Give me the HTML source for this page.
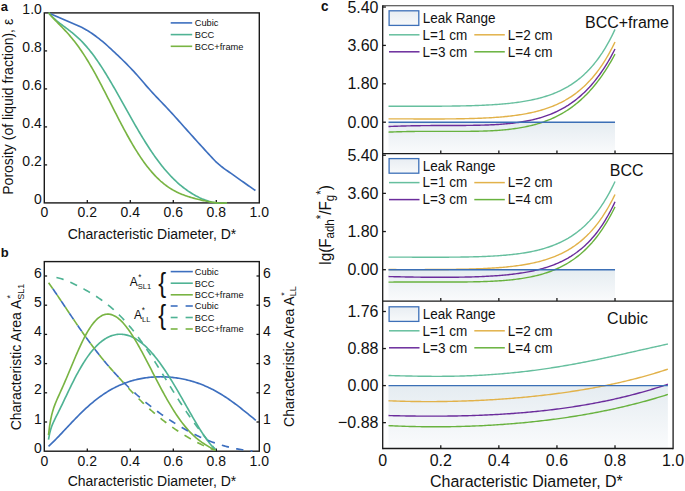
<!DOCTYPE html>
<html><head><meta charset="utf-8"><style>
html,body{margin:0;padding:0;background:#fff;}
body{width:685px;height:491px;overflow:hidden;}
svg{display:block;font-family:"Liberation Sans", sans-serif;}
</style></head><body>
<svg width="685" height="491" viewBox="0 0 685 491">
<rect width="685" height="491" fill="#fff"/>
<rect x="44.3" y="12.9" width="215" height="190" fill="none" stroke="#1a1a1a" stroke-width="1.4"/>
<line x1="87.3" y1="202.9" x2="87.3" y2="200.1" stroke="#1a1a1a" stroke-width="1.3"/>
<line x1="130.3" y1="202.9" x2="130.3" y2="200.1" stroke="#1a1a1a" stroke-width="1.3"/>
<line x1="173.3" y1="202.9" x2="173.3" y2="200.1" stroke="#1a1a1a" stroke-width="1.3"/>
<line x1="216.3" y1="202.9" x2="216.3" y2="200.1" stroke="#1a1a1a" stroke-width="1.3"/>
<line x1="44.3" y1="164.9" x2="47.1" y2="164.9" stroke="#1a1a1a" stroke-width="1.3"/>
<line x1="44.3" y1="126.9" x2="47.1" y2="126.9" stroke="#1a1a1a" stroke-width="1.3"/>
<line x1="44.3" y1="88.9" x2="47.1" y2="88.9" stroke="#1a1a1a" stroke-width="1.3"/>
<line x1="44.3" y1="50.9" x2="47.1" y2="50.9" stroke="#1a1a1a" stroke-width="1.3"/>
<path d="M48.6,12.9 L50.34,13.65 L52.08,14.4 L53.81,15.15 L55.55,15.9 L57.29,16.66 L59.03,17.42 L60.77,18.18 L62.5,18.95 L64.24,19.71 L65.98,20.47 L67.72,21.22 L69.46,21.96 L71.19,22.69 L72.93,23.43 L74.67,24.17 L76.41,24.92 L78.15,25.7 L79.89,26.51 L81.62,27.35 L83.36,28.24 L85.1,29.17 L86.84,30.17 L88.58,31.23 L90.31,32.35 L92.05,33.52 L93.79,34.74 L95.53,36 L97.27,37.3 L99,38.64 L100.74,40.03 L102.48,41.47 L104.22,42.95 L105.96,44.46 L107.69,46.01 L109.43,47.59 L111.17,49.18 L112.91,50.79 L114.65,52.41 L116.38,54.04 L118.12,55.68 L119.86,57.34 L121.6,59.02 L123.34,60.72 L125.07,62.45 L126.81,64.2 L128.55,65.97 L130.29,67.76 L132.03,69.58 L133.77,71.43 L135.5,73.32 L137.24,75.25 L138.98,77.23 L140.72,79.24 L142.46,81.27 L144.19,83.31 L145.93,85.34 L147.67,87.34 L149.41,89.31 L151.15,91.24 L152.88,93.13 L154.62,95 L156.36,96.84 L158.1,98.66 L159.84,100.47 L161.57,102.28 L163.31,104.09 L165.05,105.91 L166.79,107.73 L168.53,109.58 L170.26,111.45 L172,113.35 L173.74,115.26 L175.48,117.19 L177.22,119.13 L178.96,121.08 L180.69,123.04 L182.43,125 L184.17,126.96 L185.91,128.91 L187.65,130.85 L189.38,132.79 L191.12,134.72 L192.86,136.65 L194.6,138.58 L196.34,140.51 L198.07,142.43 L199.81,144.36 L201.55,146.27 L203.29,148.18 L205.03,150.08 L206.76,151.98 L208.5,153.86 L210.24,155.75 L211.98,157.64 L213.72,159.51 L215.45,161.3 L217.19,162.96 L218.93,164.48 L220.67,165.91 L222.41,167.26 L224.14,168.56 L225.88,169.82 L227.62,171.04 L229.36,172.24 L231.1,173.44 L232.84,174.64 L234.57,175.85 L236.31,177.08 L238.05,178.32 L239.79,179.56 L241.53,180.8 L243.26,182.04 L245,183.27 L246.74,184.49 L248.48,185.72 L250.22,186.93 L251.95,188.14 L253.69,189.35 L255.43,190.55" fill="none" stroke="#3d6fbf" stroke-width="1.65" stroke-linecap="butt" stroke-linejoin="round"/>
<path d="M48.6,12.91 L49.72,14.2 L50.84,15.42 L51.97,16.57 L53.09,17.66 L54.21,18.7 L55.33,19.69 L56.46,20.65 L57.58,21.57 L58.7,22.46 L59.82,23.33 L60.95,24.18 L62.07,25.02 L63.19,25.85 L64.31,26.68 L65.43,27.51 L66.56,28.34 L67.68,29.18 L68.8,30.04 L69.92,30.9 L71.05,31.78 L72.17,32.68 L73.29,33.6 L74.41,34.54 L75.54,35.51 L76.66,36.51 L77.78,37.53 L78.9,38.59 L80.03,39.67 L81.15,40.79 L82.27,41.94 L83.39,43.12 L84.51,44.34 L85.64,45.59 L86.76,46.88 L87.88,48.2 L89,49.55 L90.13,50.94 L91.25,52.37 L92.37,53.82 L93.49,55.32 L94.62,56.84 L95.74,58.4 L96.86,59.99 L97.98,61.61 L99.1,63.26 L100.23,64.94 L101.35,66.65 L102.47,68.39 L103.59,70.15 L104.72,71.94 L105.84,73.75 L106.96,75.59 L108.08,77.45 L109.21,79.32 L110.33,81.22 L111.45,83.13 L112.57,85.06 L113.69,87 L114.82,88.96 L115.94,90.93 L117.06,92.91 L118.18,94.9 L119.31,96.89 L120.43,98.9 L121.55,100.9 L122.67,102.91 L123.8,104.92 L124.92,106.94 L126.04,108.95 L127.16,110.96 L128.29,112.96 L129.41,114.96 L130.53,116.96 L131.65,118.94 L132.77,120.92 L133.9,122.88 L135.02,124.84 L136.14,126.78 L137.26,128.71 L138.39,130.63 L139.51,132.53 L140.63,134.41 L141.75,136.27 L142.88,138.12 L144,139.94 L145.12,141.75 L146.24,143.53 L147.36,145.29 L148.49,147.03 L149.61,148.74 L150.73,150.43 L151.85,152.1 L152.98,153.74 L154.1,155.35 L155.22,156.94 L156.34,158.5 L157.47,160.03 L158.59,161.54 L159.71,163.02 L160.83,164.47 L161.96,165.89 L163.08,167.28 L164.2,168.65 L165.32,169.98 L166.44,171.29 L167.57,172.57 L168.69,173.82 L169.81,175.04 L170.93,176.23 L172.06,177.39 L173.18,178.53 L174.3,179.64 L175.42,180.71 L176.55,181.77 L177.67,182.79 L178.79,183.79 L179.91,184.76 L181.03,185.7 L182.16,186.61 L183.28,187.5 L184.4,188.37 L185.52,189.21 L186.65,190.02 L187.77,190.81 L188.89,191.57 L190.01,192.31 L191.14,193.03 L192.26,193.72 L193.38,194.39 L194.5,195.03 L195.62,195.66 L196.75,196.25 L197.87,196.83 L198.99,197.38 L200.11,197.92 L201.24,198.42 L202.36,198.91 L203.48,199.37 L204.6,199.81 L205.73,200.23 L206.85,200.62 L207.97,200.99 L209.09,201.34 L210.22,201.66 L211.34,201.95 L212.46,202.22 L213.58,202.46 L214.7,202.67 L215.83,202.86 L216.95,203.01 L218.07,203.13 L219.19,203.22 L220.32,203.28 L221.44,203.29 L222.56,203.27 L223.68,203.21 L224.81,203.11 L225.93,202.96 L227.05,202.77" fill="none" stroke="#4fb394" stroke-width="1.65" stroke-linecap="butt" stroke-linejoin="round"/>
<path d="M48.6,12.73 L49.72,14.1 L50.84,15.42 L51.97,16.7 L53.09,17.94 L54.21,19.15 L55.33,20.34 L56.46,21.51 L57.58,22.67 L58.7,23.82 L59.82,24.97 L60.95,26.13 L62.07,27.29 L63.19,28.46 L64.31,29.64 L65.43,30.84 L66.56,32.06 L67.68,33.3 L68.8,34.57 L69.92,35.86 L71.05,37.18 L72.17,38.54 L73.29,39.92 L74.41,41.33 L75.54,42.78 L76.66,44.27 L77.78,45.78 L78.9,47.34 L80.03,48.93 L81.15,50.55 L82.27,52.21 L83.39,53.91 L84.51,55.64 L85.64,57.41 L86.76,59.21 L87.88,61.04 L89,62.9 L90.13,64.8 L91.25,66.72 L92.37,68.68 L93.49,70.66 L94.62,72.67 L95.74,74.71 L96.86,76.76 L97.98,78.84 L99.1,80.94 L100.23,83.06 L101.35,85.2 L102.47,87.35 L103.59,89.52 L104.72,91.69 L105.84,93.88 L106.96,96.08 L108.08,98.28 L109.21,100.49 L110.33,102.7 L111.45,104.91 L112.57,107.12 L113.69,109.33 L114.82,111.53 L115.94,113.73 L117.06,115.92 L118.18,118.1 L119.31,120.27 L120.43,122.42 L121.55,124.57 L122.67,126.69 L123.8,128.8 L124.92,130.88 L126.04,132.95 L127.16,134.99 L128.29,137.02 L129.41,139.01 L130.53,140.98 L131.65,142.92 L132.77,144.83 L133.9,146.72 L135.02,148.57 L136.14,150.39 L137.26,152.18 L138.39,153.93 L139.51,155.65 L140.63,157.34 L141.75,158.99 L142.88,160.6 L144,162.18 L145.12,163.72 L146.24,165.22 L147.36,166.68 L148.49,168.11 L149.61,169.49 L150.73,170.84 L151.85,172.15 L152.98,173.42 L154.1,174.65 L155.22,175.85 L156.34,177 L157.47,178.12 L158.59,179.2 L159.71,180.25 L160.83,181.26 L161.96,182.23 L163.08,183.16 L164.2,184.06 L165.32,184.93 L166.44,185.76 L167.57,186.56 L168.69,187.33 L169.81,188.07 L170.93,188.78 L172.06,189.46 L173.18,190.11 L174.3,190.73 L175.42,191.33 L176.55,191.9 L177.67,192.44 L178.79,192.97 L179.91,193.47 L181.03,193.95 L182.16,194.41 L183.28,194.85 L184.4,195.27 L185.52,195.67 L186.65,196.06 L187.77,196.44 L188.89,196.8 L190.01,197.15 L191.14,197.48 L192.26,197.81 L193.38,198.12 L194.5,198.42 L195.62,198.72 L196.75,199 L197.87,199.28 L198.99,199.55 L200.11,199.82 L201.24,200.07 L202.36,200.33 L203.48,200.57 L204.6,200.81 L205.73,201.04 L206.85,201.26 L207.97,201.48 L209.09,201.69 L210.22,201.88 L211.34,202.08 L212.46,202.25 L213.58,202.42 L214.7,202.58 L215.83,202.72 L216.95,202.84 L218.07,202.95 L219.19,203.03 L220.32,203.09 L221.44,203.13 L222.56,203.14 L223.68,203.11 L224.81,203.05 L225.93,202.96 L227.05,202.81" fill="none" stroke="#79b443" stroke-width="1.65" stroke-linecap="butt" stroke-linejoin="round"/>
<text transform="translate(44.3 216.5) scale(1 1.04)" font-size="14" text-anchor="middle" font-weight="normal" fill="#111">0</text>
<text transform="translate(87.3 216.5) scale(1 1.04)" font-size="14" text-anchor="middle" font-weight="normal" fill="#111">0.2</text>
<text transform="translate(130.3 216.5) scale(1 1.04)" font-size="14" text-anchor="middle" font-weight="normal" fill="#111">0.4</text>
<text transform="translate(173.3 216.5) scale(1 1.04)" font-size="14" text-anchor="middle" font-weight="normal" fill="#111">0.6</text>
<text transform="translate(216.3 216.5) scale(1 1.04)" font-size="14" text-anchor="middle" font-weight="normal" fill="#111">0.8</text>
<text transform="translate(259.3 216.5) scale(1 1.04)" font-size="14" text-anchor="middle" font-weight="normal" fill="#111">1.0</text>
<text transform="translate(41.8 203.9) scale(1 1.04)" font-size="14" text-anchor="end" font-weight="normal" fill="#111">0</text>
<text transform="translate(41.8 165.9) scale(1 1.04)" font-size="14" text-anchor="end" font-weight="normal" fill="#111">0.2</text>
<text transform="translate(41.8 127.9) scale(1 1.04)" font-size="14" text-anchor="end" font-weight="normal" fill="#111">0.4</text>
<text transform="translate(41.8 89.9) scale(1 1.04)" font-size="14" text-anchor="end" font-weight="normal" fill="#111">0.6</text>
<text transform="translate(41.8 51.9) scale(1 1.04)" font-size="14" text-anchor="end" font-weight="normal" fill="#111">0.8</text>
<text transform="translate(41.8 13.9) scale(1 1.04)" font-size="14" text-anchor="end" font-weight="normal" fill="#111">1.0</text>
<text transform="translate(152 238.7) scale(1 1.04)" font-size="14" text-anchor="middle" font-weight="normal" fill="#111">Characteristic Diameter, D*</text>
<text x="12.6" y="106.8" font-size="14" text-anchor="middle" font-weight="normal" fill="#111" transform="rotate(-90 12.6 106.8)">Porosity (of liquid fraction), &#949;</text>
<text transform="translate(0.8 10.8) scale(1 1.04)" font-size="13" text-anchor="start" font-weight="bold" fill="#111">a</text>
<line x1="170.7" y1="22.9" x2="192.2" y2="22.9" stroke="#3d6fbf" stroke-width="1.6"/>
<text transform="translate(194.7 26.2) scale(1 1.04)" font-size="9.3" text-anchor="start" font-weight="normal" fill="#111">Cubic</text>
<line x1="170.7" y1="34.6" x2="192.2" y2="34.6" stroke="#4fb394" stroke-width="1.6"/>
<text transform="translate(194.7 37.9) scale(1 1.04)" font-size="9.3" text-anchor="start" font-weight="normal" fill="#111">BCC</text>
<line x1="170.7" y1="46.3" x2="192.2" y2="46.3" stroke="#79b443" stroke-width="1.6"/>
<text transform="translate(194.7 49.6) scale(1 1.04)" font-size="9.3" text-anchor="start" font-weight="normal" fill="#111">BCC+frame</text>
<rect x="44.3" y="261.6" width="215" height="189.6" fill="none" stroke="#1a1a1a" stroke-width="1.4"/>
<line x1="87.3" y1="451.2" x2="87.3" y2="448.4" stroke="#1a1a1a" stroke-width="1.3"/>
<line x1="130.3" y1="451.2" x2="130.3" y2="448.4" stroke="#1a1a1a" stroke-width="1.3"/>
<line x1="173.3" y1="451.2" x2="173.3" y2="448.4" stroke="#1a1a1a" stroke-width="1.3"/>
<line x1="216.3" y1="451.2" x2="216.3" y2="448.4" stroke="#1a1a1a" stroke-width="1.3"/>
<line x1="44.3" y1="422" x2="47.1" y2="422" stroke="#1a1a1a" stroke-width="1.3"/>
<line x1="259.3" y1="422" x2="256.5" y2="422" stroke="#1a1a1a" stroke-width="1.3"/>
<line x1="44.3" y1="392.8" x2="47.1" y2="392.8" stroke="#1a1a1a" stroke-width="1.3"/>
<line x1="259.3" y1="392.8" x2="256.5" y2="392.8" stroke="#1a1a1a" stroke-width="1.3"/>
<line x1="44.3" y1="363.6" x2="47.1" y2="363.6" stroke="#1a1a1a" stroke-width="1.3"/>
<line x1="259.3" y1="363.6" x2="256.5" y2="363.6" stroke="#1a1a1a" stroke-width="1.3"/>
<line x1="44.3" y1="334.4" x2="47.1" y2="334.4" stroke="#1a1a1a" stroke-width="1.3"/>
<line x1="259.3" y1="334.4" x2="256.5" y2="334.4" stroke="#1a1a1a" stroke-width="1.3"/>
<line x1="44.3" y1="305.2" x2="47.1" y2="305.2" stroke="#1a1a1a" stroke-width="1.3"/>
<line x1="259.3" y1="305.2" x2="256.5" y2="305.2" stroke="#1a1a1a" stroke-width="1.3"/>
<line x1="44.3" y1="276" x2="47.1" y2="276" stroke="#1a1a1a" stroke-width="1.3"/>
<line x1="259.3" y1="276" x2="256.5" y2="276" stroke="#1a1a1a" stroke-width="1.3"/>
<path d="M48.51,446.33 L49.82,445.15 L51.12,443.93 L52.43,442.67 L53.73,441.39 L55.03,440.09 L56.34,438.76 L57.64,437.42 L58.95,436.06 L60.25,434.69 L61.55,433.31 L62.86,431.92 L64.16,430.52 L65.47,429.13 L66.77,427.73 L68.07,426.34 L69.38,424.95 L70.68,423.57 L71.99,422.19 L73.29,420.82 L74.6,419.47 L75.9,418.13 L77.2,416.8 L78.51,415.48 L79.81,414.18 L81.12,412.9 L82.42,411.64 L83.72,410.39 L85.03,409.17 L86.33,407.96 L87.64,406.78 L88.94,405.62 L90.24,404.48 L91.55,403.37 L92.85,402.27 L94.16,401.2 L95.46,400.16 L96.76,399.14 L98.07,398.14 L99.37,397.17 L100.68,396.23 L101.98,395.31 L103.28,394.41 L104.59,393.54 L105.89,392.69 L107.2,391.87 L108.5,391.07 L109.8,390.3 L111.11,389.56 L112.41,388.83 L113.72,388.13 L115.02,387.46 L116.33,386.81 L117.63,386.18 L118.93,385.58 L120.24,385 L121.54,384.44 L122.85,383.9 L124.15,383.39 L125.45,382.9 L126.76,382.43 L128.06,381.98 L129.37,381.55 L130.67,381.14 L131.97,380.76 L133.28,380.39 L134.58,380.04 L135.89,379.71 L137.19,379.4 L138.49,379.11 L139.8,378.84 L141.1,378.59 L142.41,378.35 L143.71,378.13 L145.01,377.93 L146.32,377.75 L147.62,377.58 L148.93,377.43 L150.23,377.3 L151.53,377.18 L152.84,377.08 L154.14,377 L155.45,376.93 L156.75,376.87 L158.06,376.83 L159.36,376.81 L160.66,376.8 L161.97,376.81 L163.27,376.84 L164.58,376.87 L165.88,376.93 L167.18,377 L168.49,377.08 L169.79,377.18 L171.1,377.29 L172.4,377.42 L173.7,377.56 L175.01,377.72 L176.31,377.9 L177.62,378.09 L178.92,378.29 L180.22,378.52 L181.53,378.75 L182.83,379.01 L184.14,379.28 L185.44,379.56 L186.74,379.86 L188.05,380.18 L189.35,380.52 L190.66,380.87 L191.96,381.24 L193.26,381.63 L194.57,382.03 L195.87,382.45 L197.18,382.89 L198.48,383.35 L199.79,383.82 L201.09,384.32 L202.39,384.83 L203.7,385.36 L205,385.91 L206.31,386.48 L207.61,387.06 L208.91,387.67 L210.22,388.3 L211.52,388.94 L212.83,389.6 L214.13,390.29 L215.43,390.99 L216.74,391.71 L218.04,392.45 L219.35,393.21 L220.65,393.99 L221.95,394.79 L223.26,395.6 L224.56,396.44 L225.87,397.29 L227.17,398.16 L228.47,399.05 L229.78,399.95 L231.08,400.87 L232.39,401.81 L233.69,402.76 L234.99,403.73 L236.3,404.7 L237.6,405.7 L238.91,406.7 L240.21,407.72 L241.52,408.74 L242.82,409.78 L244.12,410.82 L245.43,411.87 L246.73,412.93 L248.04,413.98 L249.34,415.05 L250.64,416.11 L251.95,417.17 L253.25,418.23 L254.56,419.28 L255.86,420.32" fill="none" stroke="#3d6fbf" stroke-width="1.65" stroke-linecap="butt" stroke-linejoin="round"/>
<path d="M48.51,439.58 L49.56,433.85 L50.6,429.75 L51.65,426.57 L52.69,423.91 L53.74,421.54 L54.78,419.34 L55.83,417.22 L56.87,415.12 L57.91,413.04 L58.96,410.94 L60,408.82 L61.05,406.69 L62.09,404.53 L63.14,402.36 L64.18,400.17 L65.23,397.98 L66.27,395.79 L67.31,393.6 L68.36,391.41 L69.4,389.24 L70.45,387.09 L71.49,384.96 L72.54,382.85 L73.58,380.77 L74.63,378.72 L75.67,376.71 L76.71,374.73 L77.76,372.8 L78.8,370.9 L79.85,369.05 L80.89,367.24 L81.94,365.48 L82.98,363.76 L84.02,362.09 L85.07,360.46 L86.11,358.89 L87.16,357.37 L88.2,355.89 L89.25,354.46 L90.29,353.09 L91.34,351.76 L92.38,350.49 L93.42,349.26 L94.47,348.08 L95.51,346.96 L96.56,345.88 L97.6,344.85 L98.65,343.88 L99.69,342.95 L100.74,342.07 L101.78,341.24 L102.82,340.45 L103.87,339.72 L104.91,339.03 L105.96,338.39 L107,337.8 L108.05,337.25 L109.09,336.75 L110.14,336.3 L111.18,335.89 L112.22,335.53 L113.27,335.22 L114.31,334.94 L115.36,334.72 L116.4,334.53 L117.45,334.4 L118.49,334.3 L119.54,334.25 L120.58,334.24 L121.62,334.28 L122.67,334.36 L123.71,334.48 L124.76,334.65 L125.8,334.85 L126.85,335.1 L127.89,335.39 L128.94,335.72 L129.98,336.09 L131.02,336.51 L132.07,336.96 L133.11,337.45 L134.16,337.99 L135.2,338.56 L136.25,339.18 L137.29,339.83 L138.34,340.52 L139.38,341.26 L140.42,342.03 L141.47,342.84 L142.51,343.68 L143.56,344.57 L144.6,345.49 L145.65,346.44 L146.69,347.44 L147.74,348.47 L148.78,349.54 L149.82,350.64 L150.87,351.77 L151.91,352.94 L152.96,354.15 L154,355.39 L155.05,356.66 L156.09,357.96 L157.14,359.29 L158.18,360.66 L159.22,362.06 L160.27,363.48 L161.31,364.93 L162.36,366.42 L163.4,367.93 L164.45,369.46 L165.49,371.03 L166.54,372.61 L167.58,374.22 L168.62,375.86 L169.67,377.52 L170.71,379.19 L171.76,380.89 L172.8,382.61 L173.85,384.34 L174.89,386.09 L175.94,387.86 L176.98,389.64 L178.02,391.44 L179.07,393.24 L180.11,395.06 L181.16,396.88 L182.2,398.71 L183.25,400.55 L184.29,402.39 L185.34,404.24 L186.38,406.09 L187.42,407.93 L188.47,409.77 L189.51,411.61 L190.56,413.44 L191.6,415.27 L192.65,417.08 L193.69,418.88 L194.74,420.67 L195.78,422.44 L196.82,424.19 L197.87,425.93 L198.91,427.63 L199.96,429.32 L201,430.97 L202.05,432.6 L203.09,434.19 L204.14,435.75 L205.18,437.27 L206.22,438.74 L207.27,440.18 L208.31,441.57 L209.36,442.91 L210.4,444.19 L211.45,445.42 L212.49,446.6 L213.54,447.71 L214.58,448.75" fill="none" stroke="#4fb394" stroke-width="1.65" stroke-linecap="butt" stroke-linejoin="round"/>
<path d="M48.51,435.06 L49.56,426.37 L50.61,420 L51.66,415.09 L52.71,411.14 L53.76,407.81 L54.8,404.9 L55.85,402.25 L56.9,399.77 L57.95,397.39 L59,395.06 L60.05,392.74 L61.1,390.43 L62.14,388.09 L63.19,385.74 L64.24,383.35 L65.29,380.93 L66.34,378.49 L67.39,376.02 L68.44,373.53 L69.48,371.03 L70.53,368.51 L71.58,366 L72.63,363.49 L73.68,360.99 L74.73,358.51 L75.77,356.05 L76.82,353.63 L77.87,351.23 L78.92,348.88 L79.97,346.58 L81.02,344.33 L82.07,342.14 L83.11,340 L84.16,337.94 L85.21,335.94 L86.26,334.02 L87.31,332.17 L88.36,330.41 L89.41,328.72 L90.45,327.12 L91.5,325.61 L92.55,324.19 L93.6,322.85 L94.65,321.61 L95.7,320.47 L96.74,319.41 L97.79,318.46 L98.84,317.59 L99.89,316.83 L100.94,316.15 L101.99,315.58 L103.04,315.1 L104.08,314.71 L105.13,314.42 L106.18,314.23 L107.23,314.12 L108.28,314.11 L109.33,314.19 L110.38,314.36 L111.42,314.62 L112.47,314.96 L113.52,315.39 L114.57,315.91 L115.62,316.5 L116.67,317.18 L117.71,317.93 L118.76,318.76 L119.81,319.66 L120.86,320.64 L121.91,321.68 L122.96,322.8 L124.01,323.98 L125.05,325.22 L126.1,326.52 L127.15,327.88 L128.2,329.3 L129.25,330.77 L130.3,332.29 L131.35,333.87 L132.39,335.48 L133.44,337.14 L134.49,338.85 L135.54,340.59 L136.59,342.37 L137.64,344.18 L138.68,346.02 L139.73,347.89 L140.78,349.79 L141.83,351.72 L142.88,353.66 L143.93,355.63 L144.98,357.61 L146.02,359.6 L147.07,361.61 L148.12,363.63 L149.17,365.65 L150.22,367.68 L151.27,369.72 L152.32,371.76 L153.36,373.79 L154.41,375.82 L155.46,377.85 L156.51,379.87 L157.56,381.88 L158.61,383.88 L159.65,385.87 L160.7,387.84 L161.75,389.8 L162.8,391.74 L163.85,393.66 L164.9,395.56 L165.95,397.43 L166.99,399.29 L168.04,401.12 L169.09,402.92 L170.14,404.69 L171.19,406.44 L172.24,408.16 L173.29,409.84 L174.33,411.49 L175.38,413.12 L176.43,414.7 L177.48,416.26 L178.53,417.78 L179.58,419.26 L180.62,420.71 L181.67,422.12 L182.72,423.49 L183.77,424.83 L184.82,426.13 L185.87,427.4 L186.92,428.63 L187.96,429.82 L189.01,430.97 L190.06,432.09 L191.11,433.17 L192.16,434.21 L193.21,435.22 L194.26,436.2 L195.3,437.14 L196.35,438.05 L197.4,438.92 L198.45,439.77 L199.5,440.58 L200.55,441.37 L201.59,442.13 L202.64,442.86 L203.69,443.56 L204.74,444.24 L205.79,444.9 L206.84,445.54 L207.89,446.16 L208.93,446.77 L209.98,447.35 L211.03,447.93 L212.08,448.5 L213.13,449.06 L214.18,449.61 L215.23,450.16" fill="none" stroke="#79b443" stroke-width="1.65" stroke-linecap="butt" stroke-linejoin="round"/>
<path d="M56.43,277.47 L57.43,277.69 L58.43,277.93 L59.43,278.19 L60.43,278.48 L61.43,278.79 L62.43,279.12 L63.44,279.47 L64.44,279.83 L65.44,280.21 L66.44,280.6 L67.44,281.01 L68.44,281.43 L69.44,281.86 L70.45,282.3 L71.45,282.75 L72.45,283.21 L73.45,283.68 L74.45,284.16 L75.45,284.65 L76.45,285.14 L77.46,285.64 L78.46,286.15 L79.46,286.67 L80.46,287.19 L81.46,287.72 L82.46,288.26 L83.46,288.8 L84.47,289.35 L85.47,289.91 L86.47,290.47 L87.47,291.04 L88.47,291.62 L89.47,292.21 L90.47,292.8 L91.48,293.41 L92.48,294.02 L93.48,294.64 L94.48,295.27 L95.48,295.91 L96.48,296.56 L97.49,297.22 L98.49,297.89 L99.49,298.58 L100.49,299.27 L101.49,299.98 L102.49,300.7 L103.49,301.43 L104.5,302.17 L105.5,302.93 L106.5,303.71 L107.5,304.5 L108.5,305.3 L109.5,306.12 L110.5,306.95 L111.51,307.8 L112.51,308.67 L113.51,309.55 L114.51,310.45 L115.51,311.37 L116.51,312.31 L117.51,313.26 L118.52,314.23 L119.52,315.22 L120.52,316.23 L121.52,317.26 L122.52,318.3 L123.52,319.37 L124.52,320.45 L125.53,321.55 L126.53,322.68 L127.53,323.82 L128.53,324.98 L129.53,326.16 L130.53,327.36 L131.53,328.58 L132.54,329.81 L133.54,331.07 L134.54,332.34 L135.54,333.64 L136.54,334.95 L137.54,336.28 L138.54,337.62 L139.55,338.99 L140.55,340.37 L141.55,341.77 L142.55,343.18 L143.55,344.61 L144.55,346.05 L145.55,347.51 L146.56,348.99 L147.56,350.48 L148.56,351.98 L149.56,353.49 L150.56,355.02 L151.56,356.56 L152.56,358.11 L153.57,359.67 L154.57,361.24 L155.57,362.82 L156.57,364.4 L157.57,366 L158.57,367.6 L159.57,369.21 L160.58,370.82 L161.58,372.44 L162.58,374.06 L163.58,375.68 L164.58,377.31 L165.58,378.94 L166.58,380.57 L167.59,382.19 L168.59,383.82 L169.59,385.45 L170.59,387.07 L171.59,388.69 L172.59,390.31 L173.59,391.92 L174.6,393.52 L175.6,395.12 L176.6,396.72 L177.6,398.3 L178.6,399.88 L179.6,401.44 L180.6,403 L181.61,404.55 L182.61,406.08 L183.61,407.61 L184.61,409.12 L185.61,410.62 L186.61,412.11 L187.61,413.58 L188.62,415.04 L189.62,416.49 L190.62,417.92 L191.62,419.34 L192.62,420.74 L193.62,422.13 L194.62,423.5 L195.63,424.86 L196.63,426.21 L197.63,427.54 L198.63,428.86 L199.63,430.16 L200.63,431.45 L201.63,432.73 L202.64,434 L203.64,435.25 L204.64,436.49 L205.64,437.73 L206.64,438.96 L207.64,440.17 L208.64,441.39 L209.65,442.59 L210.65,443.8 L211.65,445 L212.65,446.2 L213.65,447.41 L214.65,448.62 L215.66,449.83" fill="none" stroke="#4fb394" stroke-width="1.65" stroke-linecap="butt" stroke-linejoin="round" stroke-dasharray="7.5 7.2" stroke-dashoffset="0"/>
<path d="M48.6,282.84 L49.88,284.61 L51.16,286.41 L52.45,288.23 L53.73,290.07 L55.01,291.92 L56.29,293.79 L57.57,295.67 L58.86,297.56 L60.14,299.46 L61.42,301.36 L62.7,303.27 L63.98,305.19 L65.26,307.1 L66.55,309.02 L67.83,310.93 L69.11,312.84 L70.39,314.75 L71.67,316.65 L72.96,318.55 L74.24,320.44 L75.52,322.32 L76.8,324.19 L78.08,326.06 L79.37,327.91 L80.65,329.75 L81.93,331.58 L83.21,333.39 L84.49,335.19 L85.77,336.98 L87.06,338.76 L88.34,340.51 L89.62,342.26 L90.9,343.99 L92.18,345.7 L93.47,347.39 L94.75,349.07 L96.03,350.74 L97.31,352.38 L98.59,354.01 L99.88,355.62 L101.16,357.21 L102.44,358.79 L103.72,360.35 L105,361.89 L106.28,363.41 L107.57,364.92 L108.85,366.41 L110.13,367.88 L111.41,369.33 L112.69,370.77 L113.98,372.19 L115.26,373.59 L116.54,374.98 L117.82,376.35 L119.1,377.7 L120.39,379.03 L121.67,380.35 L122.95,381.66 L124.23,382.95 L125.51,384.22 L126.8,385.47 L128.08,386.72 L129.36,387.94 L130.64,389.15 L131.92,390.35 L133.2,391.53 L134.49,392.7 L135.77,393.86 L137.05,395 L138.33,396.12 L139.61,397.24 L140.9,398.34 L142.18,399.43 L143.46,400.5 L144.74,401.56 L146.02,402.61 L147.31,403.65 L148.59,404.68 L149.87,405.69 L151.15,406.69 L152.43,407.68 L153.71,408.66 L155,409.63 L156.28,410.59 L157.56,411.53 L158.84,412.47 L160.12,413.39 L161.41,414.31 L162.69,415.21 L163.97,416.1 L165.25,416.99 L166.53,417.86 L167.82,418.72 L169.1,419.57 L170.38,420.41 L171.66,421.24 L172.94,422.06 L174.22,422.87 L175.51,423.67 L176.79,424.46 L178.07,425.24 L179.35,426.01 L180.63,426.77 L181.92,427.52 L183.2,428.26 L184.48,428.99 L185.76,429.71 L187.04,430.41 L188.33,431.11 L189.61,431.79 L190.89,432.47 L192.17,433.13 L193.45,433.78 L194.74,434.43 L196.02,435.06 L197.3,435.68 L198.58,436.28 L199.86,436.88 L201.14,437.46 L202.43,438.04 L203.71,438.6 L204.99,439.15 L206.27,439.68 L207.55,440.21 L208.84,440.72 L210.12,441.22 L211.4,441.71 L212.68,442.19 L213.96,442.65 L215.25,443.1 L216.53,443.54 L217.81,443.96 L219.09,444.38 L220.37,444.78 L221.65,445.16 L222.94,445.54 L224.22,445.9 L225.5,446.25 L226.78,446.59 L228.06,446.92 L229.35,447.23 L230.63,447.53 L231.91,447.82 L233.19,448.1 L234.47,448.37 L235.76,448.63 L237.04,448.87 L238.32,449.11 L239.6,449.33 L240.88,449.55 L242.16,449.76 L243.45,449.95 L244.73,450.14 L246.01,450.33 L247.29,450.5 L248.57,450.67 L249.86,450.83 L251.14,450.99 L252.42,451.15" fill="none" stroke="#3d6fbf" stroke-width="1.65" stroke-linecap="butt" stroke-linejoin="round" stroke-dasharray="7.35 7.35" stroke-dashoffset="7.35"/>
<path d="M48.6,282.84 L49.65,284.29 L50.7,285.76 L51.75,287.24 L52.8,288.74 L53.85,290.25 L54.9,291.77 L55.95,293.3 L57.01,294.84 L58.06,296.38 L59.11,297.93 L60.16,299.49 L61.21,301.05 L62.26,302.62 L63.31,304.18 L64.36,305.75 L65.41,307.32 L66.46,308.89 L67.51,310.46 L68.56,312.03 L69.61,313.59 L70.66,315.16 L71.71,316.71 L72.77,318.27 L73.82,319.82 L74.87,321.36 L75.92,322.9 L76.97,324.44 L78.02,325.96 L79.07,327.48 L80.12,328.99 L81.17,330.5 L82.22,331.99 L83.27,333.48 L84.32,334.96 L85.37,336.42 L86.42,337.88 L87.47,339.33 L88.53,340.77 L89.58,342.2 L90.63,343.62 L91.68,345.02 L92.73,346.42 L93.78,347.8 L94.83,349.18 L95.88,350.54 L96.93,351.89 L97.98,353.23 L99.03,354.56 L100.08,355.88 L101.13,357.18 L102.18,358.48 L103.23,359.76 L104.28,361.03 L105.34,362.29 L106.39,363.53 L107.44,364.77 L108.49,365.99 L109.54,367.2 L110.59,368.39 L111.64,369.58 L112.69,370.76 L113.74,371.93 L114.79,373.1 L115.84,374.27 L116.89,375.43 L117.94,376.59 L118.99,377.74 L120.04,378.9 L121.1,380.05 L122.15,381.2 L123.2,382.35 L124.25,383.51 L125.3,384.66 L126.35,385.81 L127.4,386.97 L128.45,388.13 L129.5,389.29 L130.55,390.44 L131.6,391.54 L132.65,392.62 L133.7,393.7 L134.75,394.77 L135.8,395.84 L136.86,396.89 L137.91,397.94 L138.96,398.97 L140.01,400 L141.06,401.03 L142.11,402.04 L143.16,403.04 L144.21,404.04 L145.26,405.02 L146.31,406 L147.36,406.97 L148.41,407.93 L149.46,408.88 L150.51,409.82 L151.56,410.75 L152.62,411.67 L153.67,412.58 L154.72,413.49 L155.77,414.38 L156.82,415.26 L157.87,416.14 L158.92,417 L159.97,417.86 L161.02,418.7 L162.07,419.54 L163.12,420.36 L164.17,421.18 L165.22,421.99 L166.27,422.78 L167.32,423.57 L168.38,424.35 L169.43,425.12 L170.48,425.88 L171.53,426.64 L172.58,427.38 L173.63,428.11 L174.68,428.84 L175.73,429.56 L176.78,430.26 L177.83,430.96 L178.88,431.66 L179.93,432.34 L180.98,433.02 L182.03,433.68 L183.08,434.34 L184.14,435 L185.19,435.64 L186.24,436.28 L187.29,436.91 L188.34,437.53 L189.39,438.14 L190.44,438.75 L191.49,439.35 L192.54,439.94 L193.59,440.52 L194.64,441.09 L195.69,441.66 L196.74,442.22 L197.79,442.77 L198.84,443.31 L199.9,443.84 L200.95,444.36 L202,444.87 L203.05,445.37 L204.1,445.86 L205.15,446.34 L206.2,446.8 L207.25,447.25 L208.3,447.68 L209.35,448.1 L210.4,448.5 L211.45,448.88 L212.5,449.24 L213.55,449.59 L214.6,449.9 L215.66,450.2" fill="none" stroke="#79b443" stroke-width="1.65" stroke-linecap="butt" stroke-linejoin="round" stroke-dasharray="7.35 7.35" stroke-dashoffset="0"/>
<text transform="translate(44.3 465.8) scale(1 1.04)" font-size="14" text-anchor="middle" font-weight="normal" fill="#111">0</text>
<text transform="translate(87.3 465.8) scale(1 1.04)" font-size="14" text-anchor="middle" font-weight="normal" fill="#111">0.2</text>
<text transform="translate(130.3 465.8) scale(1 1.04)" font-size="14" text-anchor="middle" font-weight="normal" fill="#111">0.4</text>
<text transform="translate(173.3 465.8) scale(1 1.04)" font-size="14" text-anchor="middle" font-weight="normal" fill="#111">0.6</text>
<text transform="translate(216.3 465.8) scale(1 1.04)" font-size="14" text-anchor="middle" font-weight="normal" fill="#111">0.8</text>
<text transform="translate(259.3 465.8) scale(1 1.04)" font-size="14" text-anchor="middle" font-weight="normal" fill="#111">1.0</text>
<text transform="translate(41.8 452.7) scale(1 1.04)" font-size="14" text-anchor="end" font-weight="normal" fill="#111">0</text>
<text transform="translate(263 452.7) scale(1 1.04)" font-size="14" text-anchor="start" font-weight="normal" fill="#111">0</text>
<text transform="translate(41.8 423.5) scale(1 1.04)" font-size="14" text-anchor="end" font-weight="normal" fill="#111">1</text>
<text transform="translate(263 423.5) scale(1 1.04)" font-size="14" text-anchor="start" font-weight="normal" fill="#111">1</text>
<text transform="translate(41.8 394.3) scale(1 1.04)" font-size="14" text-anchor="end" font-weight="normal" fill="#111">2</text>
<text transform="translate(263 394.3) scale(1 1.04)" font-size="14" text-anchor="start" font-weight="normal" fill="#111">2</text>
<text transform="translate(41.8 365.1) scale(1 1.04)" font-size="14" text-anchor="end" font-weight="normal" fill="#111">3</text>
<text transform="translate(263 365.1) scale(1 1.04)" font-size="14" text-anchor="start" font-weight="normal" fill="#111">3</text>
<text transform="translate(41.8 335.9) scale(1 1.04)" font-size="14" text-anchor="end" font-weight="normal" fill="#111">4</text>
<text transform="translate(263 335.9) scale(1 1.04)" font-size="14" text-anchor="start" font-weight="normal" fill="#111">4</text>
<text transform="translate(41.8 306.7) scale(1 1.04)" font-size="14" text-anchor="end" font-weight="normal" fill="#111">5</text>
<text transform="translate(263 306.7) scale(1 1.04)" font-size="14" text-anchor="start" font-weight="normal" fill="#111">5</text>
<text transform="translate(41.8 277.5) scale(1 1.04)" font-size="14" text-anchor="end" font-weight="normal" fill="#111">6</text>
<text transform="translate(263 277.5) scale(1 1.04)" font-size="14" text-anchor="start" font-weight="normal" fill="#111">6</text>
<text transform="translate(152 486.2) scale(1 1.04)" font-size="14" text-anchor="middle" font-weight="normal" fill="#111">Characteristic Diameter, D*</text>
<text transform="translate(20.6 357) rotate(-90) scale(1 1.04)" font-size="14" text-anchor="middle" fill="#111">Characteristic Area A<tspan font-size="9" dy="3.5">SL1</tspan></text>
<text transform="translate(13.2 298.6) rotate(-90) scale(1 1.04)" font-size="9" fill="#111">*</text>
<text transform="translate(0.8 256.8) scale(1 1.04)" font-size="13" font-weight="bold" fill="#111">b</text>
<text transform="translate(293.6 356.6) rotate(-90) scale(1 1.04)" font-size="14" text-anchor="middle" fill="#111">Characteristic Area A<tspan font-size="9" dy="2.6">LL</tspan></text>
<text transform="translate(286.6 295.8) rotate(-90) scale(1 1.04)" font-size="9" fill="#111">*</text>
<line x1="170.7" y1="271.6" x2="192.8" y2="271.6" stroke="#3d6fbf" stroke-width="1.6"/>
<text transform="translate(194.8 274.9) scale(1 1.04)" font-size="9.3" text-anchor="start" font-weight="normal" fill="#111">Cubic</text>
<line x1="170.7" y1="283.2" x2="192.8" y2="283.2" stroke="#4fb394" stroke-width="1.6"/>
<text transform="translate(194.8 286.5) scale(1 1.04)" font-size="9.3" text-anchor="start" font-weight="normal" fill="#111">BCC</text>
<line x1="170.7" y1="294.8" x2="192.8" y2="294.8" stroke="#79b443" stroke-width="1.6"/>
<text transform="translate(194.8 298.1) scale(1 1.04)" font-size="9.3" text-anchor="start" font-weight="normal" fill="#111">BCC+frame</text>
<line x1="170.7" y1="306" x2="177.6" y2="306" stroke="#3d6fbf" stroke-width="1.6"/>
<line x1="185.6" y1="306" x2="192.8" y2="306" stroke="#3d6fbf" stroke-width="1.6"/>
<text transform="translate(194.8 309.3) scale(1 1.04)" font-size="9.3" text-anchor="start" font-weight="normal" fill="#111">Cubic</text>
<line x1="170.7" y1="317.5" x2="177.6" y2="317.5" stroke="#4fb394" stroke-width="1.6"/>
<line x1="185.6" y1="317.5" x2="192.8" y2="317.5" stroke="#4fb394" stroke-width="1.6"/>
<text transform="translate(194.8 320.8) scale(1 1.04)" font-size="9.3" text-anchor="start" font-weight="normal" fill="#111">BCC</text>
<line x1="170.7" y1="329" x2="177.6" y2="329" stroke="#79b443" stroke-width="1.6"/>
<line x1="185.6" y1="329" x2="192.8" y2="329" stroke="#79b443" stroke-width="1.6"/>
<text transform="translate(194.8 332.3) scale(1 1.04)" font-size="9.3" text-anchor="start" font-weight="normal" fill="#111">BCC+frame</text>
<text transform="translate(158.3 291.6) scale(0.85 1)" font-size="28" fill="#111">{</text>
<text transform="translate(158.3 324.3) scale(0.85 1)" font-size="28" fill="#111">{</text>
<text transform="translate(129.8 285.5) scale(1 1.04)" font-size="12" fill="#111">A<tspan font-size="7.5" dy="3">SL1</tspan></text>
<text transform="translate(138.2 280) scale(1 1.04)" font-size="8" fill="#111">*</text>
<text transform="translate(134 319.3) scale(1 1.04)" font-size="12" fill="#111">A<tspan font-size="7.5" dy="3">LL</tspan></text>
<text transform="translate(141.8 313.2) scale(1 1.04)" font-size="8" fill="#111">*</text>
<defs><linearGradient id="lk" x1="0" y1="0" x2="0" y2="1"><stop offset="0" stop-color="#e5ecf1"/><stop offset="1" stop-color="#fafbfc"/></linearGradient><linearGradient id="lkb" x1="0" y1="0" x2="0" y2="1"><stop offset="0" stop-color="#e8edf2"/><stop offset="1" stop-color="#f7f9fa"/></linearGradient></defs>
<rect x="388.51" y="122.2" width="226.51" height="31.6" fill="url(#lk)"/>
<path d="M388.51,106.29 L389.93,106.29 L391.36,106.29 L392.78,106.29 L394.21,106.29 L395.63,106.29 L397.06,106.29 L398.48,106.29 L399.9,106.29 L401.33,106.29 L402.75,106.29 L404.18,106.29 L405.6,106.29 L407.03,106.29 L408.45,106.29 L409.88,106.29 L411.3,106.29 L412.73,106.29 L414.15,106.29 L415.58,106.29 L417,106.29 L418.42,106.28 L419.85,106.28 L421.27,106.28 L422.7,106.28 L424.12,106.27 L425.55,106.27 L426.97,106.26 L428.4,106.26 L429.82,106.25 L431.25,106.25 L432.67,106.24 L434.1,106.23 L435.52,106.22 L436.94,106.22 L438.37,106.21 L439.79,106.2 L441.22,106.19 L442.64,106.17 L444.07,106.16 L445.49,106.15 L446.92,106.13 L448.34,106.12 L449.77,106.1 L451.19,106.08 L452.62,106.06 L454.04,106.04 L455.46,106.02 L456.89,106 L458.31,105.97 L459.74,105.95 L461.16,105.92 L462.59,105.89 L464.01,105.86 L465.44,105.83 L466.86,105.79 L468.29,105.76 L469.71,105.72 L471.14,105.68 L472.56,105.64 L473.98,105.59 L475.41,105.54 L476.83,105.49 L478.26,105.44 L479.68,105.38 L481.11,105.33 L482.53,105.26 L483.96,105.2 L485.38,105.13 L486.81,105.06 L488.23,104.99 L489.65,104.91 L491.08,104.83 L492.5,104.74 L493.93,104.65 L495.35,104.55 L496.78,104.46 L498.2,104.35 L499.63,104.24 L501.05,104.13 L502.48,104.01 L503.9,103.88 L505.33,103.75 L506.75,103.62 L508.17,103.47 L509.6,103.33 L511.02,103.17 L512.45,103.01 L513.87,102.84 L515.3,102.66 L516.72,102.47 L518.15,102.28 L519.57,102.08 L521,101.86 L522.42,101.64 L523.85,101.41 L525.27,101.17 L526.69,100.92 L528.12,100.66 L529.54,100.38 L530.97,100.1 L532.39,99.8 L533.82,99.49 L535.24,99.17 L536.67,98.83 L538.09,98.48 L539.52,98.11 L540.94,97.73 L542.37,97.34 L543.79,96.92 L545.21,96.49 L546.64,96.04 L548.06,95.57 L549.49,95.08 L550.91,94.57 L552.34,94.04 L553.76,93.49 L555.19,92.92 L556.61,92.32 L558.04,91.7 L559.46,91.05 L560.89,90.37 L562.31,89.67 L563.73,88.94 L565.16,88.17 L566.58,87.38 L568.01,86.56 L569.43,85.7 L570.86,84.8 L572.28,83.87 L573.71,82.9 L575.13,81.9 L576.56,80.85 L577.98,79.76 L579.4,78.62 L580.83,77.44 L582.25,76.21 L583.68,74.93 L585.1,73.61 L586.53,72.22 L587.95,70.78 L589.38,69.29 L590.8,67.73 L592.23,66.11 L593.65,64.43 L595.08,62.67 L596.5,60.85 L597.92,58.96 L599.35,56.99 L600.77,54.94 L602.2,52.81 L603.62,50.59 L605.05,48.29 L606.47,45.89 L607.9,43.4 L609.32,40.81 L610.75,38.11 L612.17,35.31 L613.6,32.4 L615.02,29.37" fill="none" stroke="#66bf9e" stroke-width="1.4" stroke-linecap="butt" stroke-linejoin="round"/>
<path d="M388.51,118.83 L389.93,118.83 L391.36,118.84 L392.78,118.85 L394.21,118.85 L395.63,118.86 L397.06,118.86 L398.48,118.87 L399.9,118.87 L401.33,118.88 L402.75,118.89 L404.18,118.89 L405.6,118.9 L407.03,118.9 L408.45,118.91 L409.88,118.91 L411.3,118.92 L412.73,118.92 L414.15,118.93 L415.58,118.93 L417,118.94 L418.42,118.94 L419.85,118.95 L421.27,118.95 L422.7,118.95 L424.12,118.95 L425.55,118.96 L426.97,118.96 L428.4,118.96 L429.82,118.96 L431.25,118.96 L432.67,118.96 L434.1,118.96 L435.52,118.96 L436.94,118.95 L438.37,118.95 L439.79,118.95 L441.22,118.94 L442.64,118.94 L444.07,118.93 L445.49,118.92 L446.92,118.91 L448.34,118.9 L449.77,118.89 L451.19,118.88 L452.62,118.86 L454.04,118.85 L455.46,118.83 L456.89,118.81 L458.31,118.79 L459.74,118.77 L461.16,118.75 L462.59,118.72 L464.01,118.7 L465.44,118.67 L466.86,118.64 L468.29,118.6 L469.71,118.57 L471.14,118.53 L472.56,118.49 L473.98,118.45 L475.41,118.4 L476.83,118.35 L478.26,118.3 L479.68,118.25 L481.11,118.19 L482.53,118.13 L483.96,118.06 L485.38,118 L486.81,117.92 L488.23,117.85 L489.65,117.77 L491.08,117.68 L492.5,117.6 L493.93,117.5 L495.35,117.4 L496.78,117.3 L498.2,117.19 L499.63,117.08 L501.05,116.96 L502.48,116.84 L503.9,116.71 L505.33,116.57 L506.75,116.43 L508.17,116.28 L509.6,116.12 L511.02,115.96 L512.45,115.78 L513.87,115.6 L515.3,115.42 L516.72,115.22 L518.15,115.01 L519.57,114.8 L521,114.57 L522.42,114.34 L523.85,114.1 L525.27,113.84 L526.69,113.58 L528.12,113.3 L529.54,113.01 L530.97,112.71 L532.39,112.39 L533.82,112.07 L535.24,111.73 L536.67,111.37 L538.09,111 L539.52,110.61 L540.94,110.21 L542.37,109.79 L543.79,109.36 L545.21,108.9 L546.64,108.43 L548.06,107.94 L549.49,107.43 L550.91,106.9 L552.34,106.34 L553.76,105.77 L555.19,105.17 L556.61,104.55 L558.04,103.9 L559.46,103.23 L560.89,102.53 L562.31,101.8 L563.73,101.04 L565.16,100.26 L566.58,99.44 L568.01,98.59 L569.43,97.71 L570.86,96.79 L572.28,95.84 L573.71,94.85 L575.13,93.82 L576.56,92.76 L577.98,91.65 L579.4,90.5 L580.83,89.3 L582.25,88.06 L583.68,86.77 L585.1,85.43 L586.53,84.04 L587.95,82.6 L589.38,81.1 L590.8,79.54 L592.23,77.93 L593.65,76.25 L595.08,74.51 L596.5,72.71 L597.92,70.83 L599.35,68.89 L600.77,66.87 L602.2,64.77 L603.62,62.6 L605.05,60.34 L606.47,58 L607.9,55.58 L609.32,53.06 L610.75,50.44 L612.17,47.73 L613.6,44.92 L615.02,42" fill="none" stroke="#e2b24a" stroke-width="1.4" stroke-linecap="butt" stroke-linejoin="round"/>
<path d="M388.51,126.54 L389.93,126.48 L391.36,126.42 L392.78,126.37 L394.21,126.31 L395.63,126.26 L397.06,126.21 L398.48,126.16 L399.9,126.12 L401.33,126.07 L402.75,126.03 L404.18,125.99 L405.6,125.95 L407.03,125.92 L408.45,125.89 L409.88,125.85 L411.3,125.82 L412.73,125.8 L414.15,125.77 L415.58,125.75 L417,125.72 L418.42,125.7 L419.85,125.68 L421.27,125.66 L422.7,125.65 L424.12,125.63 L425.55,125.62 L426.97,125.6 L428.4,125.59 L429.82,125.58 L431.25,125.57 L432.67,125.56 L434.1,125.55 L435.52,125.55 L436.94,125.54 L438.37,125.53 L439.79,125.53 L441.22,125.52 L442.64,125.52 L444.07,125.52 L445.49,125.51 L446.92,125.51 L448.34,125.51 L449.77,125.5 L451.19,125.5 L452.62,125.49 L454.04,125.49 L455.46,125.48 L456.89,125.48 L458.31,125.47 L459.74,125.47 L461.16,125.46 L462.59,125.45 L464.01,125.44 L465.44,125.43 L466.86,125.42 L468.29,125.4 L469.71,125.38 L471.14,125.37 L472.56,125.35 L473.98,125.32 L475.41,125.3 L476.83,125.27 L478.26,125.24 L479.68,125.21 L481.11,125.17 L482.53,125.14 L483.96,125.09 L485.38,125.05 L486.81,125 L488.23,124.94 L489.65,124.89 L491.08,124.82 L492.5,124.76 L493.93,124.68 L495.35,124.61 L496.78,124.52 L498.2,124.43 L499.63,124.34 L501.05,124.24 L502.48,124.13 L503.9,124.02 L505.33,123.9 L506.75,123.77 L508.17,123.64 L509.6,123.49 L511.02,123.34 L512.45,123.18 L513.87,123.01 L515.3,122.83 L516.72,122.64 L518.15,122.44 L519.57,122.24 L521,122.02 L522.42,121.78 L523.85,121.54 L525.27,121.29 L526.69,121.02 L528.12,120.74 L529.54,120.45 L530.97,120.14 L532.39,119.82 L533.82,119.48 L535.24,119.13 L536.67,118.76 L538.09,118.38 L539.52,117.97 L540.94,117.55 L542.37,117.12 L543.79,116.66 L545.21,116.18 L546.64,115.69 L548.06,115.17 L549.49,114.63 L550.91,114.07 L552.34,113.49 L553.76,112.88 L555.19,112.24 L556.61,111.59 L558.04,110.9 L559.46,110.19 L560.89,109.45 L562.31,108.68 L563.73,107.89 L565.16,107.06 L566.58,106.2 L568.01,105.31 L569.43,104.38 L570.86,103.42 L572.28,102.42 L573.71,101.39 L575.13,100.32 L576.56,99.21 L577.98,98.06 L579.4,96.87 L580.83,95.63 L582.25,94.35 L583.68,93.03 L585.1,91.65 L586.53,90.23 L587.95,88.76 L589.38,87.24 L590.8,85.66 L592.23,84.03 L593.65,82.35 L595.08,80.6 L596.5,78.8 L597.92,76.93 L599.35,75.01 L600.77,73.01 L602.2,70.95 L603.62,68.82 L605.05,66.62 L606.47,64.34 L607.9,61.99 L609.32,59.56 L610.75,57.05 L612.17,54.46 L613.6,51.79 L615.02,49.02" fill="none" stroke="#6b2c9c" stroke-width="1.4" stroke-linecap="butt" stroke-linejoin="round"/>
<path d="M388.51,132.13 L389.93,132.07 L391.36,132.01 L392.78,131.96 L394.21,131.91 L395.63,131.86 L397.06,131.81 L398.48,131.76 L399.9,131.72 L401.33,131.68 L402.75,131.64 L404.18,131.61 L405.6,131.58 L407.03,131.55 L408.45,131.52 L409.88,131.49 L411.3,131.47 L412.73,131.45 L414.15,131.43 L415.58,131.41 L417,131.4 L418.42,131.38 L419.85,131.37 L421.27,131.36 L422.7,131.35 L424.12,131.34 L425.55,131.34 L426.97,131.33 L428.4,131.33 L429.82,131.33 L431.25,131.33 L432.67,131.33 L434.1,131.33 L435.52,131.33 L436.94,131.33 L438.37,131.34 L439.79,131.34 L441.22,131.34 L442.64,131.35 L444.07,131.35 L445.49,131.36 L446.92,131.36 L448.34,131.37 L449.77,131.37 L451.19,131.37 L452.62,131.38 L454.04,131.38 L455.46,131.38 L456.89,131.38 L458.31,131.39 L459.74,131.38 L461.16,131.38 L462.59,131.38 L464.01,131.37 L465.44,131.37 L466.86,131.36 L468.29,131.35 L469.71,131.34 L471.14,131.32 L472.56,131.3 L473.98,131.28 L475.41,131.26 L476.83,131.23 L478.26,131.2 L479.68,131.17 L481.11,131.13 L482.53,131.09 L483.96,131.05 L485.38,131 L486.81,130.95 L488.23,130.89 L489.65,130.83 L491.08,130.76 L492.5,130.69 L493.93,130.61 L495.35,130.52 L496.78,130.43 L498.2,130.33 L499.63,130.23 L501.05,130.12 L502.48,130 L503.9,129.87 L505.33,129.74 L506.75,129.59 L508.17,129.44 L509.6,129.28 L511.02,129.11 L512.45,128.93 L513.87,128.75 L515.3,128.55 L516.72,128.34 L518.15,128.12 L519.57,127.89 L521,127.64 L522.42,127.39 L523.85,127.12 L525.27,126.84 L526.69,126.54 L528.12,126.24 L529.54,125.91 L530.97,125.58 L532.39,125.23 L533.82,124.86 L535.24,124.47 L536.67,124.07 L538.09,123.65 L539.52,123.22 L540.94,122.76 L542.37,122.29 L543.79,121.8 L545.21,121.28 L546.64,120.75 L548.06,120.19 L549.49,119.62 L550.91,119.02 L552.34,118.4 L553.76,117.75 L555.19,117.08 L556.61,116.38 L558.04,115.66 L559.46,114.91 L560.89,114.13 L562.31,113.32 L563.73,112.49 L565.16,111.62 L566.58,110.73 L568.01,109.8 L569.43,108.84 L570.86,107.85 L572.28,106.82 L573.71,105.75 L575.13,104.65 L576.56,103.51 L577.98,102.34 L579.4,101.12 L580.83,99.86 L582.25,98.56 L583.68,97.22 L585.1,95.83 L586.53,94.4 L587.95,92.92 L589.38,91.4 L590.8,89.82 L592.23,88.2 L593.65,86.52 L595.08,84.79 L596.5,83 L597.92,81.16 L599.35,79.26 L600.77,77.31 L602.2,75.29 L603.62,73.21 L605.05,71.06 L606.47,68.85 L607.9,66.57 L609.32,64.23 L610.75,61.81 L612.17,59.32 L613.6,56.76 L615.02,54.11" fill="none" stroke="#68b23e" stroke-width="1.4" stroke-linecap="butt" stroke-linejoin="round"/>
<line x1="388.51" y1="122.2" x2="615.02" y2="122.2" stroke="#3b6fb6" stroke-width="1.4"/>
<line x1="382.7" y1="7.02" x2="385.9" y2="7.02" stroke="#1a1a1a" stroke-width="1.3"/>
<text transform="translate(378.5 12.52) scale(1 1.04)" font-size="16" text-anchor="end" font-weight="normal" fill="#111">5.40</text>
<line x1="382.7" y1="45.41" x2="385.9" y2="45.41" stroke="#1a1a1a" stroke-width="1.3"/>
<text transform="translate(378.5 50.91) scale(1 1.04)" font-size="16" text-anchor="end" font-weight="normal" fill="#111">3.60</text>
<line x1="382.7" y1="83.81" x2="385.9" y2="83.81" stroke="#1a1a1a" stroke-width="1.3"/>
<text transform="translate(378.5 89.31) scale(1 1.04)" font-size="16" text-anchor="end" font-weight="normal" fill="#111">1.80</text>
<line x1="382.7" y1="122.2" x2="385.9" y2="122.2" stroke="#1a1a1a" stroke-width="1.3"/>
<text transform="translate(378.5 127.7) scale(1 1.04)" font-size="16" text-anchor="end" font-weight="normal" fill="#111">0.00</text>
<line x1="440.78" y1="153.8" x2="440.78" y2="150.6" stroke="#1a1a1a" stroke-width="1.3"/>
<line x1="498.86" y1="153.8" x2="498.86" y2="150.6" stroke="#1a1a1a" stroke-width="1.3"/>
<line x1="556.94" y1="153.8" x2="556.94" y2="150.6" stroke="#1a1a1a" stroke-width="1.3"/>
<line x1="615.02" y1="153.8" x2="615.02" y2="150.6" stroke="#1a1a1a" stroke-width="1.3"/>
<text transform="translate(669 27.7) scale(1 1.04)" font-size="16" text-anchor="end" font-weight="normal" fill="#111">BCC+frame</text>
<rect x="389.1" y="10.8" width="29.7" height="14.6" fill="url(#lkb)" stroke="#3d70b8" stroke-width="1.3"/>
<text transform="translate(422.8 23) scale(1 1.04)" font-size="13.5" text-anchor="start" font-weight="normal" fill="#111">Leak Range</text>
<line x1="389" y1="34.8" x2="419.5" y2="34.8" stroke="#66bf9e" stroke-width="1.5"/>
<text transform="translate(422.5 39.6) scale(1 1.04)" font-size="13.5" text-anchor="start" font-weight="normal" fill="#111">L=1 cm</text>
<line x1="474.3" y1="34.8" x2="504.8" y2="34.8" stroke="#e2b24a" stroke-width="1.5"/>
<text transform="translate(507.8 39.6) scale(1 1.04)" font-size="13.5" text-anchor="start" font-weight="normal" fill="#111">L=2 cm</text>
<line x1="389" y1="51.8" x2="419.5" y2="51.8" stroke="#6b2c9c" stroke-width="1.5"/>
<text transform="translate(422.5 56.6) scale(1 1.04)" font-size="13.5" text-anchor="start" font-weight="normal" fill="#111">L=3 cm</text>
<line x1="474.3" y1="51.8" x2="504.8" y2="51.8" stroke="#68b23e" stroke-width="1.5"/>
<text transform="translate(507.8 56.6) scale(1 1.04)" font-size="13.5" text-anchor="start" font-weight="normal" fill="#111">L=4 cm</text>
<rect x="388.51" y="269.7" width="226.51" height="31.4" fill="url(#lk)"/>
<path d="M388.51,257.1 L389.93,257.1 L391.36,257.11 L392.78,257.11 L394.21,257.11 L395.63,257.12 L397.06,257.12 L398.48,257.13 L399.9,257.13 L401.33,257.14 L402.75,257.14 L404.18,257.15 L405.6,257.15 L407.03,257.16 L408.45,257.16 L409.88,257.17 L411.3,257.17 L412.73,257.18 L414.15,257.18 L415.58,257.19 L417,257.19 L418.42,257.19 L419.85,257.2 L421.27,257.2 L422.7,257.2 L424.12,257.21 L425.55,257.21 L426.97,257.21 L428.4,257.21 L429.82,257.21 L431.25,257.22 L432.67,257.22 L434.1,257.22 L435.52,257.22 L436.94,257.21 L438.37,257.21 L439.79,257.21 L441.22,257.21 L442.64,257.2 L444.07,257.2 L445.49,257.19 L446.92,257.19 L448.34,257.18 L449.77,257.17 L451.19,257.16 L452.62,257.15 L454.04,257.14 L455.46,257.13 L456.89,257.11 L458.31,257.1 L459.74,257.08 L461.16,257.06 L462.59,257.04 L464.01,257.02 L465.44,257 L466.86,256.97 L468.29,256.94 L469.71,256.91 L471.14,256.88 L472.56,256.85 L473.98,256.81 L475.41,256.78 L476.83,256.73 L478.26,256.69 L479.68,256.65 L481.11,256.6 L482.53,256.54 L483.96,256.49 L485.38,256.43 L486.81,256.37 L488.23,256.3 L489.65,256.24 L491.08,256.16 L492.5,256.09 L493.93,256.01 L495.35,255.92 L496.78,255.83 L498.2,255.74 L499.63,255.64 L501.05,255.53 L502.48,255.42 L503.9,255.31 L505.33,255.19 L506.75,255.06 L508.17,254.92 L509.6,254.78 L511.02,254.64 L512.45,254.48 L513.87,254.32 L515.3,254.15 L516.72,253.98 L518.15,253.79 L519.57,253.6 L521,253.39 L522.42,253.18 L523.85,252.96 L525.27,252.73 L526.69,252.48 L528.12,252.23 L529.54,251.96 L530.97,251.69 L532.39,251.4 L533.82,251.09 L535.24,250.78 L536.67,250.45 L538.09,250.1 L539.52,249.74 L540.94,249.37 L542.37,248.98 L543.79,248.57 L545.21,248.14 L546.64,247.7 L548.06,247.24 L549.49,246.76 L550.91,246.25 L552.34,245.73 L553.76,245.18 L555.19,244.61 L556.61,244.02 L558.04,243.4 L559.46,242.76 L560.89,242.09 L562.31,241.39 L563.73,240.66 L565.16,239.91 L566.58,239.12 L568.01,238.3 L569.43,237.44 L570.86,236.55 L572.28,235.63 L573.71,234.66 L575.13,233.66 L576.56,232.62 L577.98,231.53 L579.4,230.4 L580.83,229.23 L582.25,228 L583.68,226.73 L585.1,225.41 L586.53,224.03 L587.95,222.6 L589.38,221.11 L590.8,219.56 L592.23,217.95 L593.65,216.27 L595.08,214.53 L596.5,212.72 L597.92,210.83 L599.35,208.87 L600.77,206.84 L602.2,204.72 L603.62,202.52 L605.05,200.23 L606.47,197.85 L607.9,195.37 L609.32,192.8 L610.75,190.13 L612.17,187.35 L613.6,184.46 L615.02,181.46" fill="none" stroke="#66bf9e" stroke-width="1.4" stroke-linecap="butt" stroke-linejoin="round"/>
<path d="M388.51,269.57 L389.93,269.57 L391.36,269.57 L392.78,269.57 L394.21,269.57 L395.63,269.57 L397.06,269.58 L398.48,269.58 L399.9,269.58 L401.33,269.58 L402.75,269.58 L404.18,269.58 L405.6,269.58 L407.03,269.58 L408.45,269.59 L409.88,269.59 L411.3,269.59 L412.73,269.59 L414.15,269.59 L415.58,269.59 L417,269.58 L418.42,269.58 L419.85,269.58 L421.27,269.58 L422.7,269.58 L424.12,269.58 L425.55,269.57 L426.97,269.57 L428.4,269.56 L429.82,269.56 L431.25,269.56 L432.67,269.55 L434.1,269.54 L435.52,269.54 L436.94,269.53 L438.37,269.52 L439.79,269.51 L441.22,269.5 L442.64,269.49 L444.07,269.48 L445.49,269.46 L446.92,269.45 L448.34,269.44 L449.77,269.42 L451.19,269.4 L452.62,269.38 L454.04,269.37 L455.46,269.34 L456.89,269.32 L458.31,269.3 L459.74,269.27 L461.16,269.25 L462.59,269.22 L464.01,269.19 L465.44,269.15 L466.86,269.12 L468.29,269.08 L469.71,269.05 L471.14,269.01 L472.56,268.96 L473.98,268.92 L475.41,268.87 L476.83,268.82 L478.26,268.77 L479.68,268.71 L481.11,268.66 L482.53,268.6 L483.96,268.53 L485.38,268.46 L486.81,268.39 L488.23,268.32 L489.65,268.24 L491.08,268.16 L492.5,268.07 L493.93,267.98 L495.35,267.89 L496.78,267.79 L498.2,267.68 L499.63,267.57 L501.05,267.46 L502.48,267.34 L503.9,267.21 L505.33,267.08 L506.75,266.95 L508.17,266.8 L509.6,266.66 L511.02,266.5 L512.45,266.34 L513.87,266.17 L515.3,265.99 L516.72,265.8 L518.15,265.61 L519.57,265.41 L521,265.19 L522.42,264.97 L523.85,264.74 L525.27,264.5 L526.69,264.25 L528.12,263.99 L529.54,263.72 L530.97,263.43 L532.39,263.14 L533.82,262.83 L535.24,262.51 L536.67,262.17 L538.09,261.82 L539.52,261.46 L540.94,261.08 L542.37,260.68 L543.79,260.27 L545.21,259.84 L546.64,259.4 L548.06,258.93 L549.49,258.45 L550.91,257.95 L552.34,257.42 L553.76,256.88 L555.19,256.31 L556.61,255.72 L558.04,255.1 L559.46,254.46 L560.89,253.79 L562.31,253.1 L563.73,252.38 L565.16,251.63 L566.58,250.85 L568.01,250.03 L569.43,249.19 L570.86,248.31 L572.28,247.4 L573.71,246.45 L575.13,245.46 L576.56,244.43 L577.98,243.36 L579.4,242.25 L580.83,241.09 L582.25,239.89 L583.68,238.64 L585.1,237.34 L586.53,235.99 L587.95,234.59 L589.38,233.13 L590.8,231.61 L592.23,230.04 L593.65,228.4 L595.08,226.69 L596.5,224.92 L597.92,223.08 L599.35,221.17 L600.77,219.18 L602.2,217.12 L603.62,214.97 L605.05,212.74 L606.47,210.42 L607.9,208.01 L609.32,205.51 L610.75,202.91 L612.17,200.21 L613.6,197.4 L615.02,194.48" fill="none" stroke="#e2b24a" stroke-width="1.4" stroke-linecap="butt" stroke-linejoin="round"/>
<path d="M388.51,276.55 L389.93,276.59 L391.36,276.62 L392.78,276.66 L394.21,276.69 L395.63,276.73 L397.06,276.76 L398.48,276.79 L399.9,276.82 L401.33,276.85 L402.75,276.88 L404.18,276.91 L405.6,276.94 L407.03,276.97 L408.45,276.99 L409.88,277.02 L411.3,277.04 L412.73,277.06 L414.15,277.09 L415.58,277.11 L417,277.13 L418.42,277.15 L419.85,277.17 L421.27,277.18 L422.7,277.2 L424.12,277.22 L425.55,277.23 L426.97,277.24 L428.4,277.25 L429.82,277.27 L431.25,277.28 L432.67,277.28 L434.1,277.29 L435.52,277.3 L436.94,277.3 L438.37,277.31 L439.79,277.31 L441.22,277.31 L442.64,277.31 L444.07,277.3 L445.49,277.3 L446.92,277.3 L448.34,277.29 L449.77,277.28 L451.19,277.27 L452.62,277.26 L454.04,277.25 L455.46,277.23 L456.89,277.21 L458.31,277.19 L459.74,277.17 L461.16,277.15 L462.59,277.12 L464.01,277.1 L465.44,277.07 L466.86,277.04 L468.29,277 L469.71,276.97 L471.14,276.93 L472.56,276.88 L473.98,276.84 L475.41,276.79 L476.83,276.74 L478.26,276.69 L479.68,276.63 L481.11,276.58 L482.53,276.51 L483.96,276.45 L485.38,276.38 L486.81,276.31 L488.23,276.23 L489.65,276.15 L491.08,276.06 L492.5,275.98 L493.93,275.88 L495.35,275.79 L496.78,275.68 L498.2,275.58 L499.63,275.47 L501.05,275.35 L502.48,275.23 L503.9,275.1 L505.33,274.97 L506.75,274.83 L508.17,274.68 L509.6,274.53 L511.02,274.37 L512.45,274.21 L513.87,274.04 L515.3,273.86 L516.72,273.67 L518.15,273.47 L519.57,273.27 L521,273.06 L522.42,272.84 L523.85,272.6 L525.27,272.36 L526.69,272.11 L528.12,271.85 L529.54,271.58 L530.97,271.3 L532.39,271 L533.82,270.7 L535.24,270.38 L536.67,270.04 L538.09,269.7 L539.52,269.34 L540.94,268.96 L542.37,268.57 L543.79,268.16 L545.21,267.74 L546.64,267.3 L548.06,266.84 L549.49,266.36 L550.91,265.86 L552.34,265.34 L553.76,264.8 L555.19,264.24 L556.61,263.66 L558.04,263.05 L559.46,262.42 L560.89,261.76 L562.31,261.08 L563.73,260.36 L565.16,259.62 L566.58,258.85 L568.01,258.05 L569.43,257.21 L570.86,256.34 L572.28,255.43 L573.71,254.49 L575.13,253.51 L576.56,252.49 L577.98,251.42 L579.4,250.32 L580.83,249.17 L582.25,247.97 L583.68,246.72 L585.1,245.42 L586.53,244.07 L587.95,242.67 L589.38,241.2 L590.8,239.68 L592.23,238.09 L593.65,236.44 L595.08,234.73 L596.5,232.94 L597.92,231.08 L599.35,229.14 L600.77,227.12 L602.2,225.02 L603.62,222.84 L605.05,220.56 L606.47,218.2 L607.9,215.73 L609.32,213.17 L610.75,210.5 L612.17,207.72 L613.6,204.82 L615.02,201.81" fill="none" stroke="#6b2c9c" stroke-width="1.4" stroke-linecap="butt" stroke-linejoin="round"/>
<path d="M388.51,282.12 L389.93,282.11 L391.36,282.1 L392.78,282.09 L394.21,282.07 L395.63,282.06 L397.06,282.05 L398.48,282.04 L399.9,282.04 L401.33,282.03 L402.75,282.02 L404.18,282.02 L405.6,282.01 L407.03,282.01 L408.45,282 L409.88,282 L411.3,282 L412.73,282 L414.15,281.99 L415.58,281.99 L417,281.99 L418.42,281.99 L419.85,281.99 L421.27,281.99 L422.7,282 L424.12,282 L425.55,282 L426.97,282 L428.4,282 L429.82,282 L431.25,282.01 L432.67,282.01 L434.1,282.01 L435.52,282.01 L436.94,282.02 L438.37,282.02 L439.79,282.02 L441.22,282.02 L442.64,282.02 L444.07,282.02 L445.49,282.02 L446.92,282.02 L448.34,282.02 L449.77,282.02 L451.19,282.02 L452.62,282.02 L454.04,282.01 L455.46,282.01 L456.89,282 L458.31,282 L459.74,281.99 L461.16,281.98 L462.59,281.97 L464.01,281.95 L465.44,281.94 L466.86,281.93 L468.29,281.91 L469.71,281.89 L471.14,281.87 L472.56,281.84 L473.98,281.82 L475.41,281.79 L476.83,281.76 L478.26,281.73 L479.68,281.69 L481.11,281.65 L482.53,281.61 L483.96,281.56 L485.38,281.52 L486.81,281.46 L488.23,281.41 L489.65,281.35 L491.08,281.28 L492.5,281.22 L493.93,281.14 L495.35,281.06 L496.78,280.98 L498.2,280.89 L499.63,280.8 L501.05,280.7 L502.48,280.6 L503.9,280.49 L505.33,280.37 L506.75,280.25 L508.17,280.12 L509.6,279.98 L511.02,279.84 L512.45,279.69 L513.87,279.53 L515.3,279.36 L516.72,279.18 L518.15,278.99 L519.57,278.8 L521,278.59 L522.42,278.38 L523.85,278.15 L525.27,277.91 L526.69,277.67 L528.12,277.4 L529.54,277.13 L530.97,276.85 L532.39,276.55 L533.82,276.24 L535.24,275.91 L536.67,275.57 L538.09,275.21 L539.52,274.84 L540.94,274.45 L542.37,274.05 L543.79,273.62 L545.21,273.18 L546.64,272.72 L548.06,272.24 L549.49,271.74 L550.91,271.22 L552.34,270.67 L553.76,270.11 L555.19,269.52 L556.61,268.9 L558.04,268.26 L559.46,267.6 L560.89,266.9 L562.31,266.18 L563.73,265.43 L565.16,264.65 L566.58,263.84 L568.01,262.99 L569.43,262.12 L570.86,261.2 L572.28,260.25 L573.71,259.27 L575.13,258.24 L576.56,257.18 L577.98,256.08 L579.4,254.93 L580.83,253.74 L582.25,252.5 L583.68,251.21 L585.1,249.88 L586.53,248.49 L587.95,247.05 L589.38,245.56 L590.8,244.01 L592.23,242.41 L593.65,240.74 L595.08,239.01 L596.5,237.22 L597.92,235.36 L599.35,233.43 L600.77,231.42 L602.2,229.35 L603.62,227.2 L605.05,224.97 L606.47,222.65 L607.9,220.25 L609.32,217.77 L610.75,215.19 L612.17,212.52 L613.6,209.75 L615.02,206.89" fill="none" stroke="#68b23e" stroke-width="1.4" stroke-linecap="butt" stroke-linejoin="round"/>
<line x1="388.51" y1="269.7" x2="615.02" y2="269.7" stroke="#3b6fb6" stroke-width="1.4"/>
<line x1="382.7" y1="155.22" x2="385.9" y2="155.22" stroke="#1a1a1a" stroke-width="1.3"/>
<text transform="translate(378.5 160.72) scale(1 1.04)" font-size="16" text-anchor="end" font-weight="normal" fill="#111">5.40</text>
<line x1="382.7" y1="193.38" x2="385.9" y2="193.38" stroke="#1a1a1a" stroke-width="1.3"/>
<text transform="translate(378.5 198.88) scale(1 1.04)" font-size="16" text-anchor="end" font-weight="normal" fill="#111">3.60</text>
<line x1="382.7" y1="231.54" x2="385.9" y2="231.54" stroke="#1a1a1a" stroke-width="1.3"/>
<text transform="translate(378.5 237.04) scale(1 1.04)" font-size="16" text-anchor="end" font-weight="normal" fill="#111">1.80</text>
<line x1="382.7" y1="269.7" x2="385.9" y2="269.7" stroke="#1a1a1a" stroke-width="1.3"/>
<text transform="translate(378.5 275.2) scale(1 1.04)" font-size="16" text-anchor="end" font-weight="normal" fill="#111">0.00</text>
<line x1="440.78" y1="301.1" x2="440.78" y2="297.9" stroke="#1a1a1a" stroke-width="1.3"/>
<line x1="498.86" y1="301.1" x2="498.86" y2="297.9" stroke="#1a1a1a" stroke-width="1.3"/>
<line x1="556.94" y1="301.1" x2="556.94" y2="297.9" stroke="#1a1a1a" stroke-width="1.3"/>
<line x1="615.02" y1="301.1" x2="615.02" y2="297.9" stroke="#1a1a1a" stroke-width="1.3"/>
<text transform="translate(643.5 176) scale(1 1.04)" font-size="16" text-anchor="end" font-weight="normal" fill="#111">BCC</text>
<rect x="389.1" y="158.6" width="29.7" height="14.6" fill="url(#lkb)" stroke="#3d70b8" stroke-width="1.3"/>
<text transform="translate(422.8 170.8) scale(1 1.04)" font-size="13.5" text-anchor="start" font-weight="normal" fill="#111">Leak Range</text>
<line x1="389" y1="182.6" x2="419.5" y2="182.6" stroke="#66bf9e" stroke-width="1.5"/>
<text transform="translate(422.5 187.4) scale(1 1.04)" font-size="13.5" text-anchor="start" font-weight="normal" fill="#111">L=1 cm</text>
<line x1="474.3" y1="182.6" x2="504.8" y2="182.6" stroke="#e2b24a" stroke-width="1.5"/>
<text transform="translate(507.8 187.4) scale(1 1.04)" font-size="13.5" text-anchor="start" font-weight="normal" fill="#111">L=2 cm</text>
<line x1="389" y1="199.6" x2="419.5" y2="199.6" stroke="#6b2c9c" stroke-width="1.5"/>
<text transform="translate(422.5 204.4) scale(1 1.04)" font-size="13.5" text-anchor="start" font-weight="normal" fill="#111">L=3 cm</text>
<line x1="474.3" y1="199.6" x2="504.8" y2="199.6" stroke="#68b23e" stroke-width="1.5"/>
<text transform="translate(507.8 204.4) scale(1 1.04)" font-size="13.5" text-anchor="start" font-weight="normal" fill="#111">L=4 cm</text>
<rect x="388.51" y="385.6" width="279.36" height="62.9" fill="url(#lk)"/>
<path d="M388.51,375.49 L390.27,375.54 L392.02,375.59 L393.78,375.64 L395.54,375.69 L397.29,375.73 L399.05,375.78 L400.81,375.83 L402.56,375.87 L404.32,375.91 L406.08,375.95 L407.84,375.99 L409.59,376.03 L411.35,376.07 L413.11,376.1 L414.86,376.13 L416.62,376.16 L418.38,376.19 L420.13,376.22 L421.89,376.24 L423.65,376.26 L425.41,376.28 L427.16,376.3 L428.92,376.31 L430.68,376.32 L432.43,376.33 L434.19,376.34 L435.95,376.34 L437.7,376.34 L439.46,376.33 L441.22,376.33 L442.98,376.32 L444.73,376.3 L446.49,376.29 L448.25,376.27 L450,376.25 L451.76,376.22 L453.52,376.19 L455.27,376.16 L457.03,376.12 L458.79,376.08 L460.55,376.03 L462.3,375.98 L464.06,375.93 L465.82,375.87 L467.57,375.81 L469.33,375.75 L471.09,375.68 L472.84,375.61 L474.6,375.53 L476.36,375.45 L478.12,375.37 L479.87,375.28 L481.63,375.18 L483.39,375.08 L485.14,374.98 L486.9,374.88 L488.66,374.77 L490.41,374.65 L492.17,374.53 L493.93,374.41 L495.69,374.28 L497.44,374.15 L499.2,374.01 L500.96,373.87 L502.71,373.72 L504.47,373.57 L506.23,373.41 L507.98,373.25 L509.74,373.09 L511.5,372.92 L513.26,372.75 L515.01,372.57 L516.77,372.39 L518.53,372.2 L520.28,372.01 L522.04,371.81 L523.8,371.61 L525.55,371.41 L527.31,371.2 L529.07,370.98 L530.83,370.77 L532.58,370.54 L534.34,370.32 L536.1,370.08 L537.85,369.85 L539.61,369.61 L541.37,369.36 L543.12,369.11 L544.88,368.86 L546.64,368.6 L548.4,368.34 L550.15,368.08 L551.91,367.81 L553.67,367.53 L555.42,367.26 L557.18,366.97 L558.94,366.69 L560.7,366.4 L562.45,366.1 L564.21,365.81 L565.97,365.5 L567.72,365.2 L569.48,364.89 L571.24,364.58 L572.99,364.26 L574.75,363.94 L576.51,363.62 L578.27,363.29 L580.02,362.96 L581.78,362.63 L583.54,362.29 L585.29,361.95 L587.05,361.61 L588.81,361.26 L590.56,360.92 L592.32,360.56 L594.08,360.21 L595.84,359.85 L597.59,359.49 L599.35,359.13 L601.11,358.77 L602.86,358.4 L604.62,358.03 L606.38,357.66 L608.13,357.28 L609.89,356.91 L611.65,356.53 L613.41,356.15 L615.16,355.77 L616.92,355.38 L618.68,355 L620.43,354.61 L622.19,354.23 L623.95,353.84 L625.7,353.45 L627.46,353.05 L629.22,352.66 L630.98,352.27 L632.73,351.88 L634.49,351.48 L636.25,351.09 L638,350.69 L639.76,350.3 L641.52,349.9 L643.27,349.5 L645.03,349.11 L646.79,348.71 L648.55,348.32 L650.3,347.92 L652.06,347.53 L653.82,347.13 L655.57,346.74 L657.33,346.35 L659.09,345.96 L660.84,345.57 L662.6,345.18 L664.36,344.79 L666.12,344.41 L667.87,344.03" fill="none" stroke="#66bf9e" stroke-width="1.4" stroke-linecap="butt" stroke-linejoin="round"/>
<path d="M388.51,400.76 L390.27,400.84 L392.02,400.91 L393.78,400.97 L395.54,401.04 L397.29,401.1 L399.05,401.15 L400.81,401.2 L402.56,401.25 L404.32,401.3 L406.08,401.34 L407.84,401.38 L409.59,401.42 L411.35,401.45 L413.11,401.48 L414.86,401.51 L416.62,401.53 L418.38,401.55 L420.13,401.57 L421.89,401.58 L423.65,401.59 L425.41,401.6 L427.16,401.6 L428.92,401.61 L430.68,401.6 L432.43,401.6 L434.19,401.59 L435.95,401.58 L437.7,401.57 L439.46,401.55 L441.22,401.53 L442.98,401.51 L444.73,401.48 L446.49,401.46 L448.25,401.42 L450,401.39 L451.76,401.35 L453.52,401.31 L455.27,401.27 L457.03,401.22 L458.79,401.17 L460.55,401.12 L462.3,401.07 L464.06,401.01 L465.82,400.95 L467.57,400.89 L469.33,400.82 L471.09,400.75 L472.84,400.68 L474.6,400.6 L476.36,400.52 L478.12,400.44 L479.87,400.36 L481.63,400.27 L483.39,400.18 L485.14,400.09 L486.9,399.99 L488.66,399.89 L490.41,399.79 L492.17,399.69 L493.93,399.58 L495.69,399.47 L497.44,399.36 L499.2,399.24 L500.96,399.12 L502.71,399 L504.47,398.87 L506.23,398.74 L507.98,398.61 L509.74,398.47 L511.5,398.33 L513.26,398.19 L515.01,398.05 L516.77,397.9 L518.53,397.75 L520.28,397.59 L522.04,397.43 L523.8,397.27 L525.55,397.11 L527.31,396.94 L529.07,396.77 L530.83,396.59 L532.58,396.41 L534.34,396.23 L536.1,396.05 L537.85,395.86 L539.61,395.67 L541.37,395.47 L543.12,395.27 L544.88,395.07 L546.64,394.86 L548.4,394.65 L550.15,394.44 L551.91,394.22 L553.67,394 L555.42,393.77 L557.18,393.54 L558.94,393.31 L560.7,393.07 L562.45,392.83 L564.21,392.58 L565.97,392.33 L567.72,392.08 L569.48,391.82 L571.24,391.56 L572.99,391.29 L574.75,391.02 L576.51,390.75 L578.27,390.47 L580.02,390.18 L581.78,389.9 L583.54,389.6 L585.29,389.31 L587.05,389 L588.81,388.7 L590.56,388.39 L592.32,388.07 L594.08,387.75 L595.84,387.42 L597.59,387.09 L599.35,386.76 L601.11,386.42 L602.86,386.07 L604.62,385.72 L606.38,385.36 L608.13,385 L609.89,384.64 L611.65,384.26 L613.41,383.89 L615.16,383.5 L616.92,383.11 L618.68,382.72 L620.43,382.32 L622.19,381.91 L623.95,381.5 L625.7,381.09 L627.46,380.66 L629.22,380.23 L630.98,379.8 L632.73,379.36 L634.49,378.91 L636.25,378.46 L638,378 L639.76,377.53 L641.52,377.06 L643.27,376.58 L645.03,376.09 L646.79,375.6 L648.55,375.1 L650.3,374.59 L652.06,374.08 L653.82,373.56 L655.57,373.03 L657.33,372.5 L659.09,371.96 L660.84,371.41 L662.6,370.85 L664.36,370.29 L666.12,369.72 L667.87,369.14" fill="none" stroke="#e2b24a" stroke-width="1.4" stroke-linecap="butt" stroke-linejoin="round"/>
<path d="M388.51,415.56 L390.27,415.61 L392.02,415.65 L393.78,415.69 L395.54,415.73 L397.29,415.77 L399.05,415.81 L400.81,415.85 L402.56,415.88 L404.32,415.91 L406.08,415.94 L407.84,415.97 L409.59,416 L411.35,416.02 L413.11,416.04 L414.86,416.06 L416.62,416.08 L418.38,416.1 L420.13,416.12 L421.89,416.13 L423.65,416.14 L425.41,416.15 L427.16,416.16 L428.92,416.16 L430.68,416.16 L432.43,416.16 L434.19,416.16 L435.95,416.16 L437.7,416.15 L439.46,416.14 L441.22,416.13 L442.98,416.12 L444.73,416.11 L446.49,416.09 L448.25,416.07 L450,416.05 L451.76,416.02 L453.52,415.99 L455.27,415.96 L457.03,415.93 L458.79,415.9 L460.55,415.86 L462.3,415.82 L464.06,415.78 L465.82,415.74 L467.57,415.69 L469.33,415.64 L471.09,415.59 L472.84,415.53 L474.6,415.47 L476.36,415.41 L478.12,415.35 L479.87,415.28 L481.63,415.21 L483.39,415.14 L485.14,415.06 L486.9,414.98 L488.66,414.9 L490.41,414.82 L492.17,414.73 L493.93,414.64 L495.69,414.55 L497.44,414.45 L499.2,414.35 L500.96,414.25 L502.71,414.14 L504.47,414.03 L506.23,413.92 L507.98,413.8 L509.74,413.68 L511.5,413.56 L513.26,413.43 L515.01,413.3 L516.77,413.17 L518.53,413.03 L520.28,412.89 L522.04,412.75 L523.8,412.6 L525.55,412.45 L527.31,412.29 L529.07,412.13 L530.83,411.97 L532.58,411.8 L534.34,411.63 L536.1,411.46 L537.85,411.28 L539.61,411.1 L541.37,410.91 L543.12,410.72 L544.88,410.53 L546.64,410.33 L548.4,410.12 L550.15,409.92 L551.91,409.71 L553.67,409.49 L555.42,409.27 L557.18,409.05 L558.94,408.82 L560.7,408.58 L562.45,408.35 L564.21,408.11 L565.97,407.86 L567.72,407.61 L569.48,407.35 L571.24,407.09 L572.99,406.83 L574.75,406.56 L576.51,406.28 L578.27,406 L580.02,405.72 L581.78,405.43 L583.54,405.13 L585.29,404.83 L587.05,404.53 L588.81,404.22 L590.56,403.9 L592.32,403.58 L594.08,403.26 L595.84,402.93 L597.59,402.59 L599.35,402.25 L601.11,401.9 L602.86,401.55 L604.62,401.19 L606.38,400.83 L608.13,400.46 L609.89,400.08 L611.65,399.7 L613.41,399.32 L615.16,398.93 L616.92,398.53 L618.68,398.13 L620.43,397.72 L622.19,397.3 L623.95,396.88 L625.7,396.45 L627.46,396.02 L629.22,395.58 L630.98,395.13 L632.73,394.68 L634.49,394.22 L636.25,393.75 L638,393.28 L639.76,392.8 L641.52,392.32 L643.27,391.83 L645.03,391.33 L646.79,390.83 L648.55,390.32 L650.3,389.8 L652.06,389.27 L653.82,388.74 L655.57,388.2 L657.33,387.66 L659.09,387.1 L660.84,386.54 L662.6,385.98 L664.36,385.4 L666.12,384.82 L667.87,384.23" fill="none" stroke="#6b2c9c" stroke-width="1.4" stroke-linecap="butt" stroke-linejoin="round"/>
<path d="M388.51,425.63 L390.27,425.71 L392.02,425.8 L393.78,425.88 L395.54,425.95 L397.29,426.02 L399.05,426.09 L400.81,426.16 L402.56,426.22 L404.32,426.28 L406.08,426.34 L407.84,426.39 L409.59,426.44 L411.35,426.49 L413.11,426.53 L414.86,426.57 L416.62,426.61 L418.38,426.64 L420.13,426.67 L421.89,426.7 L423.65,426.72 L425.41,426.74 L427.16,426.76 L428.92,426.77 L430.68,426.78 L432.43,426.79 L434.19,426.79 L435.95,426.79 L437.7,426.79 L439.46,426.78 L441.22,426.78 L442.98,426.76 L444.73,426.75 L446.49,426.73 L448.25,426.71 L450,426.68 L451.76,426.65 L453.52,426.62 L455.27,426.59 L457.03,426.55 L458.79,426.51 L460.55,426.47 L462.3,426.42 L464.06,426.37 L465.82,426.31 L467.57,426.26 L469.33,426.2 L471.09,426.13 L472.84,426.07 L474.6,426 L476.36,425.92 L478.12,425.85 L479.87,425.77 L481.63,425.68 L483.39,425.6 L485.14,425.51 L486.9,425.41 L488.66,425.32 L490.41,425.22 L492.17,425.12 L493.93,425.01 L495.69,424.9 L497.44,424.79 L499.2,424.67 L500.96,424.55 L502.71,424.43 L504.47,424.3 L506.23,424.17 L507.98,424.04 L509.74,423.9 L511.5,423.76 L513.26,423.61 L515.01,423.47 L516.77,423.32 L518.53,423.16 L520.28,423 L522.04,422.84 L523.8,422.68 L525.55,422.51 L527.31,422.33 L529.07,422.16 L530.83,421.98 L532.58,421.8 L534.34,421.61 L536.1,421.42 L537.85,421.22 L539.61,421.02 L541.37,420.82 L543.12,420.62 L544.88,420.41 L546.64,420.19 L548.4,419.98 L550.15,419.75 L551.91,419.53 L553.67,419.3 L555.42,419.07 L557.18,418.83 L558.94,418.59 L560.7,418.34 L562.45,418.09 L564.21,417.84 L565.97,417.58 L567.72,417.32 L569.48,417.05 L571.24,416.78 L572.99,416.51 L574.75,416.23 L576.51,415.95 L578.27,415.66 L580.02,415.37 L581.78,415.07 L583.54,414.77 L585.29,414.47 L587.05,414.16 L588.81,413.84 L590.56,413.53 L592.32,413.2 L594.08,412.88 L595.84,412.54 L597.59,412.21 L599.35,411.86 L601.11,411.52 L602.86,411.17 L604.62,410.81 L606.38,410.45 L608.13,410.08 L609.89,409.71 L611.65,409.34 L613.41,408.96 L615.16,408.57 L616.92,408.18 L618.68,407.78 L620.43,407.38 L622.19,406.98 L623.95,406.56 L625.7,406.15 L627.46,405.72 L629.22,405.3 L630.98,404.86 L632.73,404.43 L634.49,403.98 L636.25,403.53 L638,403.08 L639.76,402.62 L641.52,402.15 L643.27,401.68 L645.03,401.2 L646.79,400.71 L648.55,400.23 L650.3,399.73 L652.06,399.23 L653.82,398.72 L655.57,398.21 L657.33,397.69 L659.09,397.16 L660.84,396.63 L662.6,396.09 L664.36,395.55 L666.12,394.99 L667.87,394.44" fill="none" stroke="#68b23e" stroke-width="1.4" stroke-linecap="butt" stroke-linejoin="round"/>
<line x1="388.51" y1="385.6" x2="667.87" y2="385.6" stroke="#3b6fb6" stroke-width="1.4"/>
<line x1="382.7" y1="311.5" x2="385.9" y2="311.5" stroke="#1a1a1a" stroke-width="1.3"/>
<text transform="translate(378.5 317) scale(1 1.04)" font-size="16" text-anchor="end" font-weight="normal" fill="#111">1.76</text>
<line x1="382.7" y1="348.55" x2="385.9" y2="348.55" stroke="#1a1a1a" stroke-width="1.3"/>
<text transform="translate(378.5 354.05) scale(1 1.04)" font-size="16" text-anchor="end" font-weight="normal" fill="#111">0.88</text>
<line x1="382.7" y1="385.6" x2="385.9" y2="385.6" stroke="#1a1a1a" stroke-width="1.3"/>
<text transform="translate(378.5 391.1) scale(1 1.04)" font-size="16" text-anchor="end" font-weight="normal" fill="#111">0.00</text>
<line x1="382.7" y1="422.65" x2="385.9" y2="422.65" stroke="#1a1a1a" stroke-width="1.3"/>
<text transform="translate(378.5 428.15) scale(1 1.04)" font-size="16" text-anchor="end" font-weight="normal" fill="#111">&#8722;0.88</text>
<line x1="440.78" y1="448.5" x2="440.78" y2="445.3" stroke="#1a1a1a" stroke-width="1.3"/>
<line x1="498.86" y1="448.5" x2="498.86" y2="445.3" stroke="#1a1a1a" stroke-width="1.3"/>
<line x1="556.94" y1="448.5" x2="556.94" y2="445.3" stroke="#1a1a1a" stroke-width="1.3"/>
<line x1="615.02" y1="448.5" x2="615.02" y2="445.3" stroke="#1a1a1a" stroke-width="1.3"/>
<text transform="translate(648 323.5) scale(1 1.04)" font-size="16" text-anchor="end" font-weight="normal" fill="#111">Cubic</text>
<rect x="389.1" y="306.8" width="29.7" height="14.6" fill="url(#lkb)" stroke="#3d70b8" stroke-width="1.3"/>
<text transform="translate(422.8 319) scale(1 1.04)" font-size="13.5" text-anchor="start" font-weight="normal" fill="#111">Leak Range</text>
<line x1="389" y1="330.8" x2="419.5" y2="330.8" stroke="#66bf9e" stroke-width="1.5"/>
<text transform="translate(422.5 335.6) scale(1 1.04)" font-size="13.5" text-anchor="start" font-weight="normal" fill="#111">L=1 cm</text>
<line x1="474.3" y1="330.8" x2="504.8" y2="330.8" stroke="#e2b24a" stroke-width="1.5"/>
<text transform="translate(507.8 335.6) scale(1 1.04)" font-size="13.5" text-anchor="start" font-weight="normal" fill="#111">L=2 cm</text>
<line x1="389" y1="347.8" x2="419.5" y2="347.8" stroke="#6b2c9c" stroke-width="1.5"/>
<text transform="translate(422.5 352.6) scale(1 1.04)" font-size="13.5" text-anchor="start" font-weight="normal" fill="#111">L=3 cm</text>
<line x1="474.3" y1="347.8" x2="504.8" y2="347.8" stroke="#68b23e" stroke-width="1.5"/>
<text transform="translate(507.8 352.6) scale(1 1.04)" font-size="13.5" text-anchor="start" font-weight="normal" fill="#111">L=4 cm</text>
<line x1="382.7" y1="5.8" x2="673.1" y2="5.8" stroke="#333" stroke-width="1.1"/>
<line x1="382.7" y1="153.6" x2="673.1" y2="153.6" stroke="#1a1a1a" stroke-width="1.4"/>
<line x1="382.7" y1="301.1" x2="673.1" y2="301.1" stroke="#1a1a1a" stroke-width="1.4"/>
<line x1="382.7" y1="448.5" x2="673.1" y2="448.5" stroke="#1a1a1a" stroke-width="1.4"/>
<line x1="382.7" y1="5.2" x2="382.7" y2="449.2" stroke="#1a1a1a" stroke-width="1.3"/>
<line x1="673.1" y1="5.2" x2="673.1" y2="449.2" stroke="#1a1a1a" stroke-width="1.3"/>
<text transform="translate(382.7 466) scale(1 1.04)" font-size="16" text-anchor="middle" font-weight="normal" fill="#111">0</text>
<text transform="translate(440.78 466) scale(1 1.04)" font-size="16" text-anchor="middle" font-weight="normal" fill="#111">0.2</text>
<text transform="translate(498.86 466) scale(1 1.04)" font-size="16" text-anchor="middle" font-weight="normal" fill="#111">0.4</text>
<text transform="translate(556.94 466) scale(1 1.04)" font-size="16" text-anchor="middle" font-weight="normal" fill="#111">0.6</text>
<text transform="translate(615.02 466) scale(1 1.04)" font-size="16" text-anchor="middle" font-weight="normal" fill="#111">0.8</text>
<text transform="translate(673.1 466) scale(1 1.04)" font-size="16" text-anchor="middle" font-weight="normal" fill="#111">1.0</text>
<text transform="translate(526.4 487.3) scale(1 1.04)" font-size="16" text-anchor="middle" font-weight="normal" fill="#111">Characteristic Diameter, D*</text>
<text transform="translate(330.6 225) rotate(-90) scale(1 1.04)" font-size="15.3" text-anchor="middle" fill="#111">lg(F<tspan font-size="11.5" dy="3.6">adh</tspan><tspan font-size="11.5" dy="-9.4">*</tspan><tspan dy="5.8">/F</tspan><tspan font-size="11.5" dy="3.6">g</tspan><tspan font-size="11.5" dy="-9.4">*</tspan><tspan dy="5.8">)</tspan></text>
<text transform="translate(321 10.8) scale(1 1.04)" font-size="13.5" font-weight="bold" fill="#111">c</text>
</svg>
</body></html>
